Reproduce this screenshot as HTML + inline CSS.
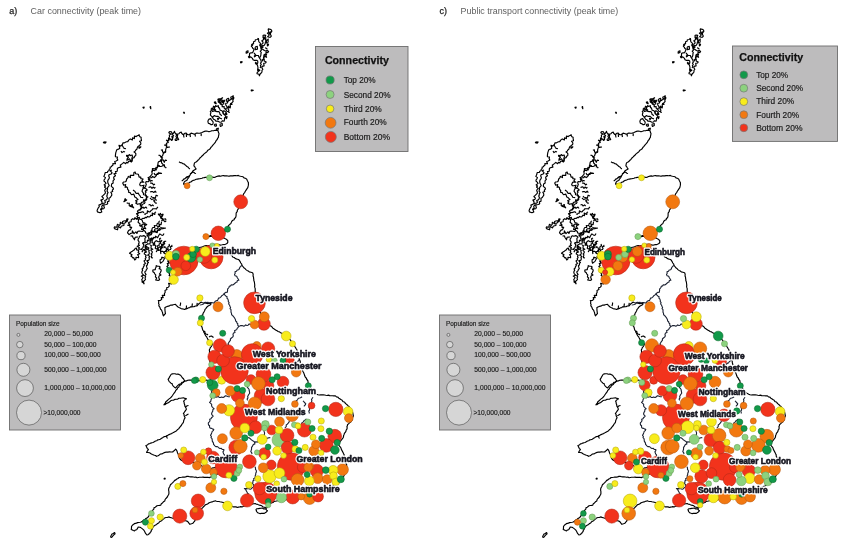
<!DOCTYPE html><html><head><meta charset="utf-8"><style>html,body{margin:0;padding:0;background:#fff;overflow:hidden}svg{display:block}</style></head><body>
<svg width="850" height="552" viewBox="0 0 850 552">
<rect width="850" height="552" fill="#fff"/>
<g font-family="Liberation Sans, Arial, sans-serif">
<text x="9.3" y="14.1" font-size="9" fill="#222" stroke="#222" stroke-width="0.25">a)</text>
<text x="30.6" y="14.1" font-size="9" fill="#5e5e5e" textLength="110.4" lengthAdjust="spacingAndGlyphs">Car connectivity (peak time)</text>
<text x="439.4" y="14.1" font-size="9" fill="#222" stroke="#222" stroke-width="0.25">c)</text>
<text x="460.6" y="14.1" font-size="9" fill="#5e5e5e" textLength="157.6" lengthAdjust="spacingAndGlyphs">Public transport connectivity (peak time)</text>
</g>
<defs><g id="geo" fill="none" stroke="#000" stroke-width="1.15" stroke-linejoin="round"><polyline points="169.5,131.5 171.4,131.7 172.6,134.2 173.5,133.2 174.5,131.3 175.0,132.9 176.0,133.9 177.5,134.2 179.0,133.7 179.8,132.7 181.2,132.0 181.8,133.5 183.0,134.5 184.1,134.1 184.9,133.2 186.0,133.0 186.9,134.0 187.9,134.7 189.1,134.6 190.1,134.1 191.1,133.1 192.5,133.5 193.8,134.1 194.9,134.1 195.9,133.4 197.0,133.0 198.5,133.3 199.9,133.2 200.9,132.9 202.0,132.5 203.0,132.0 204.5,131.4 206.1,131.0 207.6,131.3 209.0,131.8 210.5,131.3 211.9,130.7 213.5,130.8 215.0,130.3 216.1,130.5 217.2,130.3 218.0,130.7 218.3,132.1 219.0,133.5 218.8,134.8 218.5,136.1 218.4,137.3 217.6,138.3 217.2,139.5 216.3,140.4 215.7,141.5 215.1,142.7 214.2,143.7 213.3,144.6 212.5,145.6 211.7,146.6 210.8,147.5 210.2,148.7 209.1,149.5 207.9,150.2 207.1,151.3 206.2,152.3 205.3,152.9 204.4,153.6 203.6,154.4 202.9,155.3 202.0,156.0 201.2,156.9 200.2,157.7 199.5,158.7 198.7,159.7 197.8,160.3 197.0,161.3 196.1,162.0 194.9,162.5 194.3,163.5 194.1,164.7 193.9,165.8 194.8,166.8 195.4,168.1 196.1,168.9 194.8,169.7 193.5,170.5 192.6,171.3 192.2,172.4 191.3,173.2 190.4,174.2 189.9,175.4 189.2,176.5 188.8,177.5 188.1,178.4 187.4,179.2 186.8,180.5 185.4,181.0 184.3,181.9 183.8,182.9 183.5,184.1 184.9,184.0 186.2,183.6 187.5,183.4 188.8,183.1 189.7,182.2 191.1,181.9 192.0,181.0 193.0,180.4 194.1,180.2 195.1,179.8 196.2,179.3 197.3,179.1 198.5,178.9 199.7,178.8 200.9,178.5 202.0,178.2 203.0,177.7 204.2,177.6 205.3,177.4 206.4,177.4 207.5,177.3 208.6,177.1 209.9,177.2 211.3,177.3 212.7,177.1 214.0,177.5 215.4,177.1 216.6,176.5 218.0,176.1 219.3,175.9 220.7,176.2 222.0,175.7 223.4,175.5 224.5,175.9 225.6,175.8 226.8,175.8 227.9,176.0 229.0,176.3 230.2,175.9 231.5,175.8 232.8,175.9 234.0,175.6 235.4,175.5 236.8,175.7 238.3,175.4 239.4,176.0 240.6,176.3 241.8,176.5 243.1,176.8 244.0,177.9 245.3,178.3 246.6,178.9 247.2,180.3 247.8,181.5 248.4,182.6 248.4,183.7 248.4,184.9 248.2,185.9 247.8,187.6 246.9,188.9 246.1,190.1 245.3,191.3 244.7,192.6 243.7,193.6 243.3,194.8 243.0,196.0 242.7,197.6 241.9,199.0 241.7,200.1 241.2,201.2 241.0,202.4 240.4,203.5 240.3,204.7 239.7,205.7 238.9,206.7 238.5,207.8 238.3,209.0 237.4,210.2 237.2,211.7 236.2,212.9 236.1,214.1 236.1,215.3 235.9,216.6 235.5,217.7 234.4,218.4 234.2,219.7 232.9,220.3 231.8,221.2 231.3,222.4 230.8,223.6 229.8,224.3 228.9,225.2 228.2,226.2 227.4,227.1 226.5,228.0 225.6,228.8 224.7,230.6 223.5,231.1 222.6,231.9 221.6,232.7 220.4,233.1 219.2,233.1 218.2,233.6 217.0,233.8 215.8,234.2 214.4,234.2 213.2,234.5 212.1,235.3 210.7,235.6 209.4,236.0 208.0,236.7 209.2,236.7 210.5,236.5 211.8,236.5 213.0,236.9 214.3,237.0 215.5,237.0 216.7,236.6 217.9,236.8 219.3,237.0 220.7,237.2 221.9,237.8 223.6,237.8 224.9,238.6 226.4,239.3 227.7,240.5 227.8,242.3 226.9,243.6 225.5,244.3 224.4,244.6 223.2,244.5 222.1,245.0 221.0,245.1 219.5,244.9 218.0,244.3 216.7,244.4 215.3,244.2 214.0,244.3 212.7,244.9 211.3,244.8 210.0,245.2 208.8,245.5 207.6,245.8 206.2,245.5 205.0,245.8 203.7,246.2 202.5,246.8 201.2,247.1 199.9,247.3 199.1,248.1 198.0,248.4 197.1,249.3 196.4,249.9 195.2,250.7 194.1,252.0 195.4,251.2 196.8,251.3 198.0,250.4 199.2,250.1 200.5,250.4 201.8,250.3 203.0,249.7 204.3,249.9 205.6,249.4 207.1,249.3 208.3,250.1 209.7,249.9 211.0,250.3 212.3,251.1 213.7,251.1 215.0,251.3 216.3,251.4 217.5,251.6 218.7,252.0 220.0,251.8 221.2,252.4 222.4,252.2 223.6,252.8 224.8,252.9 226.0,252.7 227.4,252.9 228.7,253.3 230.2,253.4 230.6,254.5 231.6,255.3 232.3,256.1 233.0,257.3 234.2,257.5 235.1,258.3 236.2,258.9 237.3,259.2 238.5,259.5 239.3,260.2 240.1,261.6 240.8,263.0 241.7,264.1 242.0,265.3 242.9,266.5 243.8,267.7 245.0,268.5 245.9,269.6 247.0,270.4 248.3,271.0 249.3,271.9 250.9,272.2 252.6,272.7 253.0,273.7 253.2,274.9 253.0,276.0 253.5,277.1 253.6,278.3 253.8,279.4 253.8,280.6 254.3,281.7 254.5,282.8 254.6,284.0 254.8,285.1 254.6,286.3 254.8,287.4 255.2,288.6 255.2,289.8 255.2,291.0 255.3,292.3 255.3,293.7 255.7,295.0 255.9,296.2 255.9,297.5 256.1,298.7 256.0,300.0 256.6,301.3 256.9,302.6 256.9,304.0 257.5,305.3 257.5,306.7 258.0,308.0 258.3,309.1 259.2,309.9 259.5,311.0 259.8,312.1 260.7,312.9 260.8,314.1 261.7,314.9 261.9,316.1 262.5,317.2 263.3,318.1 264.3,318.9 265.2,319.8 265.8,321.0 266.5,322.2 267.6,322.9 268.1,324.2 269.4,324.6 270.0,325.8 271.3,326.2 272.1,327.1 272.9,328.2 273.9,328.8 274.9,329.6 276.0,330.2 277.1,330.8 278.1,331.5 279.5,331.9 280.6,332.7 281.9,333.2 282.9,334.1 284.0,334.8 285.1,335.3 286.2,335.9 286.9,337.1 288.0,337.7 289.0,338.6 290.0,339.6 290.8,340.6 291.7,341.6 292.4,342.7 293.1,343.7 293.7,344.6 294.5,345.5 294.8,346.6 295.5,347.5 296.0,348.5 296.7,349.4 297.1,350.5 297.7,351.4 298.1,352.8 298.3,354.1 298.3,355.5 298.9,356.8 299.2,358.1 299.3,359.4 299.9,360.5 300.3,361.6 300.3,362.8 300.7,363.9 300.9,365.0 301.4,366.2 301.5,367.3 301.8,368.5 302.4,369.6 302.6,370.8 303.1,371.8 303.7,372.8 304.1,373.9 304.5,375.0 304.8,376.1 305.4,377.3 306.4,378.2 306.8,379.5 307.8,380.5 308.0,381.6 308.1,382.8 308.2,383.9 308.9,384.9 308.9,386.1 309.6,387.3 310.6,388.2 311.2,389.4 311.9,390.7 312.9,391.2 313.7,392.1 314.5,392.9 315.5,393.6 316.7,394.2 318.0,394.8 319.3,395.0 320.7,394.9 322.0,394.8 323.3,394.9 324.6,395.0 325.8,395.3 327.1,395.5 328.4,395.1 329.7,395.6 331.0,395.7 332.4,395.7 333.9,395.9 335.4,395.9 336.5,396.9 337.9,397.1 338.8,398.2 339.8,398.8 340.8,399.5 341.9,400.0 342.5,401.0 343.3,401.7 344.5,402.0 345.1,403.0 346.0,403.9 347.0,404.7 347.9,405.6 349.0,406.5 349.8,407.8 350.7,408.8 351.6,409.8 351.8,411.0 352.5,412.0 352.9,413.3 353.1,414.6 353.4,415.9 352.6,417.4 352.3,418.9 351.9,420.5 351.0,421.7 349.8,422.6 348.7,423.7 347.5,424.6 347.4,425.7 346.9,426.8 347.2,427.9 346.9,429.1 346.1,430.3 345.8,431.6 344.4,433.3 344.1,434.4 343.6,435.4 343.5,436.7 343.1,437.8 342.3,438.7 341.7,439.7 340.9,440.6 340.0,441.7 338.9,442.5 337.9,443.6 338.6,444.7 339.3,445.9 340.2,446.9 341.0,448.0 341.3,449.3 341.9,450.4 342.5,451.5 343.1,452.6 343.6,453.8 344.2,454.9 344.2,456.2 344.9,457.3 344.9,458.5 345.3,459.7 345.4,460.9 345.8,462.0 345.9,463.2 346.6,464.4 346.6,465.6 346.8,466.8 347.1,468.0 346.6,469.2 346.3,470.5 345.9,471.7 345.8,473.2 344.9,474.0 344.3,475.0 343.8,476.1 343.2,477.0 342.4,477.9 341.7,478.8 341.1,479.8 340.3,480.6 339.8,481.6 339.1,482.7 338.2,483.4 337.1,483.9 336.0,484.3 334.9,484.8 333.9,485.3 333.0,486.0 331.9,486.2 331.0,487.0 329.9,487.3 328.8,488.1 327.5,488.4 326.3,488.7 325.2,489.6 324.1,490.2 322.8,490.4 321.6,491.0 320.4,491.6 319.3,492.3 318.0,492.6 316.8,493.0 315.5,493.6 314.2,493.8 313.0,494.5 311.8,494.7 310.5,494.9 309.4,495.3 308.2,495.7 307.0,495.9 305.8,496.1 304.6,496.3 303.4,496.5 302.2,496.9 301.0,496.9 299.8,497.1 298.6,497.1 297.4,497.4 296.2,497.6 295.0,497.8 293.8,498.0 292.6,498.3 291.4,498.7 290.2,498.9 289.0,498.9 287.7,499.0 286.5,499.5 285.3,500.0 284.0,499.8 282.8,500.1 281.5,500.3 280.3,500.6 279.0,500.5 277.7,500.6 276.5,501.0 275.3,501.3 274.0,501.4 273.2,502.4 272.0,502.7 270.9,503.1 269.9,503.9 269.3,504.9 268.4,505.6 267.7,506.5 267.1,507.5 266.1,508.4 265.2,507.4 263.9,507.2 262.7,506.7 261.8,505.8 260.6,505.4 259.5,505.1 258.4,504.7 257.3,504.2 256.1,504.1 255.1,503.5 253.8,503.7 252.5,503.9 251.3,504.4 250.0,504.4 248.8,505.0 247.6,505.2 246.5,505.8 245.2,505.8 244.0,506.1 242.9,506.6 241.8,506.9 240.7,506.6 239.6,507.0 238.5,507.1 237.2,507.5 236.0,506.8 234.8,506.9 233.5,506.9 232.4,506.5 231.4,506.0 230.3,505.6 229.1,505.6 228.1,504.8 226.8,504.5 225.8,503.5 224.5,503.2 223.5,502.6 222.3,502.3 221.1,502.0 220.0,501.8 218.8,501.5 217.6,501.5 216.4,501.3 215.3,500.8 214.2,501.3 213.1,501.4 212.1,501.9 210.6,502.2 209.1,502.8 208.3,503.5 207.3,504.1 206.2,504.5 205.2,504.9 204.5,505.9 203.5,506.8 202.7,507.7 201.0,509.0 200.4,509.9 200.2,511.1 199.8,512.1 198.9,512.9 198.4,513.9 197.8,514.9 197.5,516.0 197.2,517.2 196.3,518.0 196.0,519.2 195.0,520.0 194.6,521.3 193.7,522.2 193.0,523.2 191.5,523.8 189.9,524.3 188.9,523.2 188.1,521.9 186.9,521.1 185.6,520.7 184.2,520.6 182.9,520.0 181.7,520.0 180.6,519.6 179.5,519.3 178.2,519.0 176.7,519.4 175.5,518.6 174.1,518.2 172.7,518.2 171.3,517.8 170.0,517.4 168.6,516.9 167.3,517.5 165.9,517.5 164.5,518.0 163.7,519.0 162.5,519.4 161.8,520.6 160.7,521.3 159.5,521.8 158.7,522.9 157.6,523.5 156.6,524.4 155.5,525.1 154.3,525.7 153.3,526.6 152.7,527.7 152.2,529.1 151.3,530.3 151.1,531.5 150.3,532.3 149.7,533.4 148.8,534.0 147.9,534.7 146.9,535.0 145.6,533.4 145.0,532.2 144.4,531.0 143.6,529.9 142.1,528.6 141.1,527.9 140.1,527.2 138.2,527.0 137.5,528.4 136.7,529.7 135.4,530.0 134.5,530.9 133.4,530.5 132.3,529.9 131.2,529.5 131.5,528.1 131.5,526.5 132.5,525.1 133.5,524.5 134.4,523.6 136.4,523.1 137.6,522.6 138.8,522.5 140.0,522.3 141.2,522.0 142.1,521.4 143.0,520.8 143.8,520.0 145.0,519.6 145.7,518.5 146.9,518.1 147.9,517.3 148.8,516.2 149.3,514.8 150.3,513.6 151.7,512.6 152.2,511.3 152.8,510.1 153.8,509.1 154.1,507.6 155.2,507.2 156.1,506.5 157.0,505.7 158.2,505.5 159.5,505.4 160.8,505.1 161.3,503.7 162.5,503.0 163.4,501.8 164.8,501.0 165.0,499.8 165.6,498.8 166.4,498.0 167.3,497.0 167.9,495.8 168.5,494.8 168.9,493.7 168.9,492.6 168.9,491.5 168.6,490.1 168.7,488.7 169.1,487.6 169.7,486.7 170.1,485.6 170.6,484.5 171.7,483.7 172.7,482.7 173.7,481.6 174.7,480.4 175.9,479.9 176.8,479.0 178.0,478.5 178.8,477.6 180.2,477.5 181.6,477.3 183.0,477.0 184.3,477.1 185.6,476.9 186.9,476.4 188.2,476.4 189.5,476.7 190.7,476.9 192.0,476.8 193.3,477.0 194.5,477.3 195.9,477.1 197.1,477.7 198.3,477.5 199.5,477.3 200.6,477.2 201.8,477.2 203.0,477.1 204.2,477.4 205.5,477.3 206.7,477.4 208.0,477.2 209.3,477.7 210.3,477.1 211.3,476.9 212.4,476.5 213.7,476.7 214.7,475.7 216.0,475.0 217.2,474.2 218.1,473.3 218.9,472.4 219.8,471.6 220.7,470.7 221.5,469.6 222.1,468.4 223.1,467.5 224.0,466.5 225.1,465.7 225.8,464.6 226.5,463.4 225.1,463.7 223.9,464.2 222.4,464.3 221.3,464.9 220.3,465.6 219.1,466.0 217.9,466.2 216.7,466.9 215.6,467.4 214.3,467.8 213.0,467.9 211.7,468.3 210.4,468.5 209.3,469.3 208.0,469.5 207.1,468.8 205.9,468.5 204.9,467.8 204.0,467.0 202.9,466.5 201.9,466.0 200.9,465.3 200.0,464.5 199.0,464.0 197.7,463.9 196.4,463.5 195.3,462.7 194.0,462.4 192.7,462.6 191.5,462.0 190.2,462.4 189.0,462.1 187.7,461.6 186.3,461.4 184.9,461.4 183.6,460.7 182.2,460.6 181.1,460.2 180.4,459.3 179.5,458.5 179.3,457.3 178.8,456.2 178.6,455.0 178.1,454.0 177.6,453.0 177.0,451.1 176.4,449.9 175.6,449.1 174.4,450.6 173.4,451.2 172.7,452.0 171.1,452.0 169.5,451.8 168.1,452.1 166.6,452.0 165.1,452.4 163.5,453.0 162.2,453.9 160.5,454.0 159.3,454.9 158.1,455.7 156.4,456.3 155.6,455.5 154.4,455.3 152.4,454.4 151.0,453.7 149.6,452.8 148.0,452.5 146.6,452.4 147.1,451.3 147.8,450.4 148.4,449.5 147.2,448.3 146.5,446.8 145.9,445.6 147.4,444.9 148.7,443.8 149.8,443.6 150.8,443.1 151.9,442.7 153.0,442.5 154.3,441.8 155.5,441.0 156.7,440.8 157.6,439.9 158.8,439.7 160.3,439.2 161.6,438.3 162.6,437.7 163.5,437.1 164.6,436.6 166.2,436.2 167.6,435.4 169.0,434.6 170.5,434.0 171.5,433.6 172.5,433.1 173.5,432.4 174.8,431.7 176.3,431.0 177.3,429.8 178.6,428.9 179.5,427.6 180.5,426.4 181.3,425.5 181.8,424.4 182.7,423.3 183.5,422.2 183.6,421.0 184.0,419.9 184.4,418.9 185.1,417.7 184.6,416.7 184.1,415.7 184.1,414.5 183.4,413.4 184.3,412.3 185.1,411.1 185.8,410.1 186.4,409.1 185.7,407.4 184.9,406.2 184.7,404.8 184.2,403.5 184.1,402.3 183.6,401.3 184.3,400.3 185.3,399.6 186.5,398.8 184.9,398.4 183.6,397.8 182.0,398.0 180.5,398.2 179.0,398.3 177.7,399.1 176.2,399.2 174.7,399.4 173.4,400.2 171.9,400.3 170.8,400.7 170.0,401.6 169.0,402.2 168.1,402.9 166.9,403.2 166.0,403.8 165.1,404.7 163.9,404.8 164.6,403.8 165.4,403.0 165.8,401.8 167.1,400.8 168.2,399.6 169.1,398.9 170.1,398.2 171.0,397.3 171.8,396.5 172.5,395.5 173.1,394.5 174.1,393.2 175.1,391.9 175.6,390.7 176.3,389.8 177.2,389.0 177.7,387.7 178.8,387.1 179.3,385.8 180.3,385.1 181.3,384.5 181.9,383.4 183.0,382.6 183.9,381.7 184.9,381.1 186.4,380.9 187.8,380.3 189.2,380.1 190.6,380.1 191.8,380.2 192.9,380.2 194.0,380.8 195.1,380.8 196.5,380.7 198.0,380.3 199.5,380.8 200.9,380.5 202.1,380.6 203.2,380.6 204.4,380.1 205.5,380.2 206.7,380.1 208.1,380.7 209.7,381.1 210.1,379.9 210.9,379.0 210.7,377.7 210.2,376.5 210.6,374.9 211.3,373.5 211.7,372.3 211.9,371.2 212.3,369.9 211.7,368.7 211.4,367.3 210.8,366.1 210.6,364.7 210.2,363.4 210.1,362.0 209.7,360.7 209.5,359.4 209.4,358.0 209.6,356.7 209.6,355.3 209.9,354.0 209.4,352.7 209.6,351.3 209.3,350.1 209.8,349.0 210.2,347.9 210.9,347.0 211.6,346.1 212.1,345.0 212.5,343.8 210.7,343.4 209.7,342.6 209.1,341.5 208.5,340.3 207.8,339.1 207.2,338.0 206.7,336.9 205.7,335.8 205.0,334.5 204.5,333.2 203.8,332.1 203.5,331.0 202.8,330.1 202.4,328.8 202.1,327.4 201.5,326.1 200.5,325.0 199.8,323.9 199.4,322.6 199.9,321.1 200.4,319.5 200.7,318.0 201.3,316.7 202.1,315.7 202.8,314.6 203.1,313.3 203.9,312.1 204.6,310.8 205.1,309.3 206.0,308.4 206.7,307.2 207.8,306.3 209.1,305.6 210.0,305.1 210.7,304.5 211.0,303.5 209.5,303.2 208.0,303.6 205.9,303.3 204.4,303.0 202.9,302.8 201.8,302.5 201.0,302.1 199.9,303.0 198.8,303.8 197.9,304.8 197.0,306.0 195.5,306.0 194.0,306.6 192.9,306.7 191.8,306.9 190.6,306.8 189.7,307.6 188.5,307.8 187.5,308.4 185.9,308.9 184.4,309.5 183.3,309.0 182.1,308.9 181.0,308.4 180.0,307.9 179.0,307.5 178.0,307.0 177.2,306.2 176.3,305.4 175.5,304.3 174.4,304.5 173.2,304.7 172.2,305.1 171.0,305.0 169.8,305.6 168.5,306.1 167.2,306.4 165.9,307.0 164.8,307.7 165.0,308.8 164.9,310.0 165.1,311.1 165.2,312.3 165.5,313.5 164.4,314.7 163.5,315.9 163.0,314.8 162.7,313.6 162.5,312.4 162.0,311.3 161.6,310.1 160.6,309.2 160.1,308.1 159.7,306.8 158.8,305.8 159.1,304.5 158.5,303.3 158.8,301.9 158.3,300.6 160.2,300.5 161.7,299.4 161.2,297.6 163.2,297.6 162.2,295.4 164.6,295.4 164.4,293.6 165.2,292.3 165.0,290.6 166.9,289.6 166.6,287.7 168.2,287.2 169.1,286.4 169.2,285.2 168.6,283.3 171.4,284.0 172.2,282.1 171.1,280.8 170.2,279.6 170.2,277.9 170.5,276.3 169.1,275.4 169.8,274.1 169.0,273.1 168.3,272.0 169.5,270.5 167.9,269.4 168.3,268.0 166.9,266.5 168.3,265.3 167.3,263.6 169.4,263.0 167.8,261.3 168.5,261.3 167.9,260.2 168.0,259.5 166.6,258.5 165.7,257.7 165.0,256.8 166.3,254.9 165.6,254.0 164.4,253.2 163.6,252.1 162.6,251.3 160.6,251.8 160.4,249.8 158.5,250.5 157.9,249.1 156.4,248.9 155.2,248.3 155.7,246.3 155.2,245.1 153.0,245.2 153.9,243.3 152.0,242.6 152.2,240.9 152.2,239.4 151.0,238.9 148.7,239.2 148.8,237.6 148.0,236.4 147.0,235.3 147.4,233.2 145.7,233.0 145.3,231.5 144.3,230.8 143.3,229.8 141.5,229.4 142.3,227.3 142.1,225.9 139.7,225.8 140.1,223.9 139.0,223.0 138.1,222.2 138.5,220.7 138.6,219.3 135.6,218.7 138.2,217.8 136.9,216.4 138.3,215.3 136.6,213.7 138.5,213.0 137.4,211.1 138.5,210.1 140.5,209.8 140.5,208.3 141.5,207.5 141.5,205.9 142.2,205.0 143.0,204.0 144.4,203.5 145.0,202.5 144.6,200.6 145.9,200.1 146.9,199.1 146.4,197.9 146.7,196.2 145.8,195.1 143.5,194.7 143.4,193.2 142.1,191.4 142.3,190.1 142.9,188.9 143.6,187.7 145.6,187.0 145.7,185.7 146.3,184.7 145.7,182.9 146.0,181.6 148.6,181.7 148.9,180.6 149.8,179.8 148.0,177.7 149.4,177.0 150.5,176.2 151.1,175.3 152.2,174.0 151.9,172.1 152.4,170.6 152.4,168.6 155.2,168.8 156.6,167.9 157.4,166.5 157.9,164.8 158.0,163.0 158.5,161.8 160.5,161.1 161.6,160.0 162.2,158.9 160.8,156.8 162.5,156.0 163.0,154.5 163.4,153.3 164.9,152.5 165.7,151.4 165.6,150.0 166.0,148.7 166.4,147.4 166.6,146.2 166.7,144.8 166.4,143.3 168.3,142.5 167.0,140.7 168.7,139.9 168.4,138.5 169.2,137.4 169.6,136.3 169.3,135.1 170.8,134.0 168.8,132.8 169.5,131.5 169.5,131.5"/>
<polyline points="268.5,28.6 269.4,29.2 270.6,29.4 271.4,30.0 271.9,31.3 270.6,32.3 270.4,33.5 270.6,34.8 271.3,36.1 270.5,37.2 269.2,37.3 267.6,36.7 268.9,35.6 269.0,34.4 267.4,33.2 268.9,32.1 268.5,30.9 268.2,29.7 268.5,28.6"/>
<polyline points="262.9,35.2 264.4,35.1 265.8,35.2 265.1,36.3 265.8,37.5 265.7,38.6 265.5,39.7 266.2,40.9 265.5,42.0 265.2,43.1 265.2,43.8 264.1,45.5 262.0,45.3 261.7,44.1 263.1,43.1 262.9,42.0 261.8,40.8 263.5,39.7 263.6,38.6 263.1,37.5 263.1,36.3 262.9,35.2"/>
<polyline points="258.3,38.2 258.6,39.4 258.6,40.7 258.9,41.9 260.1,42.9 260.6,43.9 260.5,45.2 261.2,46.2 260.9,47.6 261.7,48.7 263.0,49.5 264.4,50.5 265.7,51.0 267.3,50.4 268.6,51.5 267.8,52.6 266.0,52.1 266.1,53.7 264.4,54.5 265.1,56.2 263.6,57.1 263.6,58.3 264.2,59.4 264.2,60.9 266.2,62.0 265.6,63.0 263.7,63.3 263.9,64.6 264.1,65.9 262.1,66.4 261.8,67.6 262.8,69.3 261.9,70.5 262.0,72.0 261.2,73.0 260.1,74.0 259.4,75.8 259.0,74.2 257.0,73.7 257.2,72.5 258.4,71.3 257.6,70.2 257.7,69.0 258.0,67.8 257.8,66.6 257.5,65.4 256.7,64.2 257.8,62.8 257.7,60.9 256.7,60.3 255.4,60.3 254.1,60.3 253.0,59.7 252.4,58.3 251.4,57.3 249.5,56.6 249.5,55.0 249.6,53.2 251.0,52.9 252.6,52.8 253.2,51.4 253.5,50.8 254.1,49.1 252.8,48.4 252.4,47.3 251.3,46.1 252.1,45.2 252.5,44.2 253.6,43.6 253.5,41.8 255.0,41.3 255.4,39.7 257.3,39.5 258.3,38.2"/>
<polyline points="240.5,61.5 242.2,61.9 241.6,62.7 240.6,62.8 240.5,61.5"/>
<polyline points="251.2,89.8 253.3,90.2 252.4,90.8 251.3,91.0 251.2,89.8"/>
<polyline points="211.2,108.4 212.9,108.4 213.5,106.2 215.0,107.0 215.7,105.6 216.5,106.4 218.4,105.7 218.4,107.6 219.4,107.9 219.8,109.1 220.2,110.3 222.0,110.7 222.8,112.1 223.3,113.8 224.6,114.5 225.2,115.5 226.0,116.9 224.7,117.8 224.4,118.9 224.6,119.6 224.0,121.2 222.3,120.7 221.6,122.0 219.9,122.2 218.4,121.5 217.2,121.1 215.9,121.2 215.2,120.0 213.8,119.4 213.0,118.3 212.5,117.2 211.4,116.1 210.4,115.0 210.5,113.7 211.0,112.7 210.3,111.4 211.3,110.6 211.2,108.4"/>
<polyline points="208.6,119.4 210.7,118.6 211.4,119.8 212.3,120.8 213.2,122.0 213.0,123.4 212.6,124.4 211.1,124.8 210.1,123.9 208.3,123.2 207.9,121.3 208.6,119.4"/>
<polyline points="217.7,99.2 218.9,98.8 220.2,98.9 221.4,98.8 222.6,97.8 221.2,98.6 220.7,100.2 221.4,101.1 222.9,101.5 223.7,102.4 223.7,104.0 222.3,104.2 220.9,103.9 220.6,102.7 219.6,102.1 219.6,100.6 219.0,99.6 217.7,99.2"/>
<polyline points="225.5,104.4 225.9,103.2 227.4,103.0 227.8,101.8 228.4,100.8 229.7,100.4 230.6,99.6 231.5,98.8 232.4,98.0 233.8,97.4 233.7,98.7 232.7,99.9 233.2,101.2 232.4,102.3 231.6,103.1 230.8,104.0 230.1,104.8 230.5,106.5 229.8,107.4 228.4,107.8 228.0,109.0 228.9,110.2 228.3,111.7 229.3,112.5 228.5,111.6 226.9,111.3 226.1,110.0 225.8,108.6 227.7,107.4 226.6,106.3 225.5,104.4"/>
<polyline points="139.1,134.5 139.4,135.7 139.9,136.8 141.1,137.3 141.2,138.9 141.5,140.7 139.5,141.2 140.9,143.0 140.6,144.6 139.6,145.2 138.8,146.0 137.9,146.6 137.2,147.9 136.9,149.2 135.8,150.0 135.2,151.1 134.0,152.0 135.3,152.9 135.9,153.9 135.7,155.7 134.4,156.3 134.2,157.6 132.9,158.0 132.0,158.7 132.0,160.3 131.5,162.0 129.6,161.0 128.5,161.4 127.8,162.9 126.5,162.4 125.6,163.7 123.8,162.4 122.7,163.4 121.4,164.4 120.3,165.0 120.9,167.2 119.5,167.4 118.3,167.8 117.4,168.5 117.3,170.1 117.2,171.2 115.4,171.6 116.1,173.4 113.9,173.9 115.5,175.7 114.0,176.7 113.6,178.0 114.4,179.4 113.2,180.5 113.0,181.7 113.2,183.0 111.6,184.0 111.5,185.2 111.3,186.4 113.0,187.7 113.5,189.0 112.3,190.1 112.7,191.5 110.8,192.3 111.7,193.8 111.8,195.1 111.1,196.2 110.3,197.4 108.9,198.3 109.1,199.8 108.9,201.4 107.3,201.7 107.7,203.8 106.5,204.5 104.6,204.7 103.7,205.6 104.4,207.7 103.7,208.7 102.0,209.0 101.0,209.9 101.8,212.0 100.0,212.7 97.4,211.9 97.1,210.4 97.6,209.2 98.3,207.8 99.3,206.7 98.9,205.1 100.8,204.4 102.0,203.4 102.0,201.9 100.9,200.1 102.9,199.4 103.4,198.1 101.9,196.5 103.2,195.4 104.2,194.3 105.2,193.3 105.4,192.1 104.7,190.7 105.0,189.6 106.3,188.6 104.5,187.0 105.5,186.0 104.1,184.9 106.0,183.5 105.5,182.4 104.1,181.3 104.0,180.0 104.9,178.8 105.5,177.6 103.8,176.4 104.4,175.2 104.9,174.0 105.2,172.5 107.4,172.4 107.7,171.2 109.0,170.8 109.2,169.4 110.1,168.7 110.2,167.1 111.4,166.7 112.1,165.7 113.0,165.0 112.9,163.5 115.5,163.7 114.7,161.5 116.2,161.0 117.8,160.1 117.1,158.5 117.5,157.0 115.4,156.7 115.4,155.3 115.6,153.9 115.8,152.7 116.3,151.1 117.0,149.5 118.7,149.1 119.8,148.2 119.0,145.3 120.8,146.1 121.6,145.2 122.5,144.3 122.9,142.8 124.4,142.9 125.4,142.2 126.5,141.7 127.8,141.6 128.5,140.4 129.3,139.6 130.3,138.9 132.4,139.9 132.5,137.8 134.4,138.6 134.4,136.0 136.2,136.6 137.2,135.7 138.6,135.4 139.1,134.5"/>
<polyline points="126.5,155.0 128.0,155.8 129.0,154.8 129.5,154.6 130.1,155.6 132.2,155.0 132.4,156.5 132.5,156.6 132.0,157.8 132.3,159.3 131.9,161.4 130.6,160.6 129.5,158.8 126.9,160.3 127.1,158.9 128.5,157.1 126.7,156.3 126.5,155.0"/>
<polyline points="138.6,147.0 140.9,146.8 140.0,147.8 139.1,148.3 138.6,147.0"/>
<polyline points="131.8,175.4 133.7,175.4 133.9,172.5 135.2,172.0 135.5,173.7 138.3,174.2 138.6,175.1 139.1,177.1 140.8,177.0 140.8,178.6 143.1,179.0 141.8,181.1 143.9,182.2 142.3,182.3 140.6,182.2 139.7,184.4 140.3,185.7 141.7,185.8 144.0,185.2 143.0,187.7 144.5,188.2 145.9,188.7 147.2,190.0 145.3,191.1 146.1,192.2 145.1,193.4 145.7,194.9 146.1,196.5 147.9,196.9 146.7,197.6 146.0,198.7 145.9,200.3 143.5,199.9 144.0,202.0 142.3,202.1 141.2,202.7 141.2,204.1 140.4,206.2 140.4,203.9 139.2,203.7 137.5,204.3 135.7,203.1 137.0,201.8 135.6,200.8 138.0,199.5 136.8,198.4 135.9,197.5 134.7,196.9 134.3,195.5 133.7,194.1 131.7,194.7 130.8,193.8 130.1,192.6 128.5,192.2 128.8,190.9 128.2,189.9 127.5,189.1 127.6,187.8 126.7,186.9 125.1,187.3 125.7,184.5 123.7,185.2 122.7,183.1 123.5,182.0 125.5,181.8 126.2,181.0 126.7,179.0 127.8,177.8 128.3,176.4 130.5,177.6 130.3,175.3 131.8,175.4"/>
<polyline points="124.5,199.0 125.3,198.7 125.5,200.0 126.7,199.9 123.9,201.7 125.0,200.2 124.5,199.0"/>
<polyline points="131.0,205.0 132.4,204.6 132.3,205.9 133.7,207.9 132.9,207.2 130.4,206.4 131.0,205.0"/>
<polyline points="114.0,228.0 114.6,226.9 116.5,227.2 116.9,226.4 117.4,224.3 119.2,225.5 120.2,224.3 120.3,222.3 122.7,223.8 122.6,221.5 123.8,221.0 125.1,220.7 126.4,220.6 127.0,218.8 128.1,219.0 127.4,220.3 127.1,221.7 125.7,221.9 125.1,223.0 124.0,223.2 123.9,225.5 122.5,225.8 121.2,226.3 120.6,227.9 118.3,226.5 117.8,227.9 117.6,229.8 116.1,229.3 114.9,228.9 114.0,228.0"/>
<polyline points="129.5,222.0 131.1,221.7 131.3,219.7 132.7,218.7 134.2,219.4 134.9,217.6 136.6,219.1 137.2,218.7 139.3,217.3 140.0,219.5 141.5,219.5 142.3,220.6 142.7,222.1 143.2,222.5 145.2,223.2 144.6,225.0 145.3,225.6 144.2,226.3 145.8,228.7 143.2,228.1 143.5,230.4 142.7,231.5 140.9,231.2 139.3,231.1 137.9,231.3 136.9,233.4 135.9,231.8 134.0,233.6 132.3,230.9 132.3,233.1 130.9,233.2 129.1,234.6 128.3,233.7 127.5,232.8 128.2,231.2 129.1,230.1 130.6,229.6 131.7,227.3 130.0,227.3 130.0,225.6 127.7,225.3 129.9,224.6 128.5,223.0 129.5,222.0"/>
<polyline points="131.0,252.0 132.3,251.3 133.4,250.4 133.8,250.3 135.3,248.3 136.5,248.1 136.7,249.9 138.4,250.3 138.8,251.3 138.1,252.4 139.7,253.8 137.5,254.7 138.5,256.0 138.6,257.8 135.9,257.3 136.0,258.8 134.7,260.0 133.8,257.7 133.1,258.0 132.0,256.8 130.9,256.1 132.0,254.8 129.5,253.2 131.0,252.0"/>
<polyline points="139.0,238.0 139.4,236.4 140.4,235.8 141.9,236.3 143.8,235.6 146.0,237.1 144.9,238.3 144.9,239.7 145.2,241.3 144.3,242.4 142.6,243.1 144.0,245.1 143.2,246.5 143.0,247.7 141.9,248.4 141.6,249.6 141.1,249.2 138.6,249.1 139.4,247.7 137.1,246.3 139.4,245.4 138.4,244.1 139.0,243.1 139.1,241.8 138.1,240.4 138.1,239.2 139.0,238.0"/>
<polyline points="146.0,246.0 147.2,247.1 148.9,248.0 147.6,249.3 149.3,250.4 148.8,251.6 149.3,252.8 149.2,254.0 147.6,255.1 149.9,256.5 148.9,257.6 149.4,258.9 148.9,260.1 146.8,260.9 148.4,262.5 147.3,263.5 147.5,264.9 146.4,265.8 146.8,267.2 147.3,268.6 146.3,269.6 146.0,270.9 144.7,271.9 145.2,273.2 146.1,274.5 144.7,275.6 145.7,276.8 145.0,278.0 145.5,279.4 144.6,280.5 143.3,281.5 143.8,282.9 144.1,283.8 143.2,282.7 142.0,282.0 142.3,280.9 141.7,279.6 142.5,278.5 143.0,277.4 141.3,276.1 143.7,275.2 142.3,273.8 141.8,272.5 142.0,271.4 142.7,270.3 142.1,269.0 143.2,268.0 143.4,266.8 144.3,265.7 143.9,264.5 145.4,263.5 144.8,262.2 144.0,261.0 145.6,259.9 145.2,258.7 146.1,257.6 145.5,256.4 146.2,255.3 144.2,253.9 144.5,252.8 146.6,251.9 144.1,250.4 146.7,249.6 146.9,248.4 144.8,247.0 146.0,246.0"/>
<polyline points="156.0,265.5 157.2,266.1 159.0,266.2 160.2,266.9 159.1,268.7 160.7,269.1 161.2,270.4 160.9,271.6 160.3,272.8 159.4,274.0 161.0,275.0 159.1,275.9 158.7,277.2 159.6,279.7 158.2,280.4 155.7,280.0 156.7,277.9 155.4,277.0 155.7,275.9 155.7,274.8 154.7,273.8 154.3,272.7 152.9,271.7 152.8,270.0 155.3,269.6 155.4,268.2 156.2,267.0 156.0,265.5"/>
<polyline points="161.5,257.0 164.4,258.0 164.1,259.3 163.3,260.7 162.7,261.6 160.5,263.2 160.1,261.7 160.1,259.8 161.9,258.7 161.5,257.0"/>
<polyline points="171.2,374.3 172.4,373.9 173.7,373.8 175.0,373.7 176.3,374.2 177.7,374.1 179.0,374.4 180.5,375.2 181.5,376.5 182.3,377.7 183.5,378.7 184.0,379.9 184.8,380.7 184.0,381.5 183.1,382.2 181.9,382.4 181.2,383.4 180.2,384.1 179.0,384.4 177.9,385.4 176.9,386.4 175.7,387.9 174.4,387.2 173.3,386.1 172.5,385.0 172.1,383.6 170.9,383.2 170.2,382.4 169.2,381.6 168.7,380.6 168.1,379.3 168.8,378.4 169.3,377.4 170.3,375.7 171.2,374.3"/>
<polyline points="110.5,536.5 111.3,535.3 112.0,534.1 113.3,533.5 114.6,532.5 115.1,533.9 113.9,534.8 112.9,535.8 112.1,536.9 111.1,537.5 110.5,536.5"/>
<polyline points="164.2,478.0 165.2,478.2 165.0,479.1 164.2,479.0 164.2,478.0"/>
<polyline points="256.0,509.0 257.3,508.8 258.5,508.6 259.8,508.4 261.0,508.2 262.3,508.1 263.4,508.8 264.7,508.8 265.9,509.1 266.6,510.1 267.4,510.8 266.4,511.9 265.2,512.7 264.0,513.4 262.8,513.4 261.5,513.3 260.2,513.6 259.2,513.3 257.6,512.7 256.6,511.5 256.2,510.3 256.0,509.0"/>
<polyline points="142.6,107.2 144.2,107.3 143.8,107.0 143.8,108.2 142.6,107.2"/>
<polyline points="150.0,106.5 150.6,106.5 150.8,108.7 150.2,107.4 150.0,106.5"/>
<polyline points="183.4,112.1 184.3,112.2 184.4,113.3 183.7,113.0 183.4,112.1"/>
<polyline points="104.3,141.8 106.2,142.0 105.2,143.2 103.4,142.6 104.3,141.8"/>
<polyline points="219.0,100.5 220.2,99.9 220.9,99.8 222.8,100.4 222.6,102.4 220.9,101.7 220.3,102.9 218.9,102.0 219.0,100.5"/>
<polyline points="226.0,100.0 226.9,99.1 228.4,98.3 229.0,99.2 228.6,99.9 227.9,101.1 227.3,101.8 226.6,101.0 226.0,100.0"/>
<polyline points="230.5,97.0 231.6,96.7 233.3,95.8 233.1,97.2 233.1,99.0 231.4,98.9 230.5,97.0"/>
<polyline points="223.0,112.0 223.6,110.8 224.7,111.1 226.1,112.3 226.0,114.1 224.9,114.2 224.5,114.8 223.4,113.5 223.0,112.0"/>
<polyline points="214.0,124.5 216.2,124.0 216.5,125.9 215.1,126.3 214.0,124.5"/>
<polyline points="216.5,128.5 218.4,128.2 218.0,129.8 216.3,130.0 216.5,128.5"/>
<polyline points="266.0,40.0 267.3,40.1 268.2,39.0 268.1,40.5 268.2,41.4 267.7,42.9 266.5,43.0 266.4,41.5 266.0,40.0"/>
<polyline points="255.0,47.0 257.3,46.4 257.4,47.7 257.5,49.1 255.2,49.6 255.3,48.2 255.0,47.0"/>
<polyline points="263.5,55.0 264.8,54.8 266.6,54.4 265.9,55.8 266.6,57.3 265.1,56.5 263.5,57.6 264.2,56.2 263.5,55.0"/>
<polyline points="246.1,51.5 248.0,50.8 248.0,52.4 246.2,53.2 246.1,51.5"/>
<polyline points="248.2,56.5 249.3,56.2 250.0,57.6 249.0,57.7 248.2,56.5"/>
<polyline points="261.0,46.4 262.8,45.8 263.0,47.3 261.3,48.3 261.0,46.4"/>
<polyline points="265.3,47.6 265.5,47.6 267.1,48.9 266.3,48.5 265.3,47.6"/>
<polyline points="267.0,44.4 268.2,44.1 268.6,44.7 267.7,46.0 267.0,44.4"/>
<polyline points="255.1,62.5 255.7,62.4 257.2,63.9 255.9,63.9 255.1,62.5"/>
<polyline points="262.3,59.6 264.0,59.0 263.3,59.5 262.3,61.0 262.3,59.6"/>
<polyline points="258.0,69.4 258.6,69.4 259.9,70.2 258.8,71.0 258.0,69.4"/>
<polyline points="269.3,32.6 271.1,32.0 270.6,33.1 269.1,34.1 269.3,32.6"/>
<polyline points="263.1,37.4 264.3,37.2 265.2,38.8 264.0,38.8 263.1,37.4"/>
<polyline points="251.3,44.6 252.8,44.1 252.3,44.5 252.6,45.3 251.3,44.6"/>
<polyline points="254.3,55.6 255.6,55.2 255.6,56.1 254.5,56.9 254.3,55.6"/>
<polyline points="225.1,113.5 226.4,113.1 226.9,114.2 226.3,114.7 225.1,113.5"/>
<polyline points="227.9,106.3 228.7,106.2 230.4,107.8 229.6,107.7 227.9,106.3"/>
<polyline points="230.2,103.5 231.4,103.2 232.0,104.5 231.5,104.5 230.2,103.5"/>
<polyline points="223.2,100.5 224.3,100.2 224.7,101.0 223.6,101.9 223.2,100.5"/>
<polyline points="214.0,102.4 215.5,101.9 216.2,103.6 215.4,103.7 214.0,102.4"/>
<polyline points="219.8,124.3 222.2,123.5 222.3,125.5 220.4,126.4 219.8,124.3"/>
<polyline points="225.0,117.4 227.1,116.7 226.8,117.9 226.6,118.6 225.0,117.4"/>
<polyline points="217.1,118.5 218.0,118.3 218.5,118.6 218.2,119.7 217.1,118.5"/>
<polyline points="211.8,109.3 213.2,108.9 214.6,111.0 212.3,111.5 211.8,109.3"/>
<polyline points="159.9,160.0 161.4,160.2 161.5,161.7 161.7,163.1 162.5,163.8 163.1,164.8 164.5,165.3 164.3,166.8 165.6,167.3 166.3,168.2"/>
<polyline points="152.7,180.9 151.6,180.5 150.2,181.3 149.4,178.9 148.0,180.0"/>
<polyline points="155.4,187.2 154.3,188.2 153.1,187.0 152.0,188.3 150.8,186.8 149.6,187.1 148.5,187.5"/>
<polyline points="156.3,192.6 155.2,191.1 153.8,192.5 152.6,191.6 151.3,191.5 150.0,192.0"/>
<polyline points="156.3,200.8 155.8,199.2 154.6,198.9 153.4,198.8 151.8,199.6 150.9,198.9 150.0,198.0"/>
<polyline points="153.6,206.2 152.6,204.9 151.0,206.0 150.0,204.5 148.5,205.0"/>
<polyline points="166.0,140.1 167.3,140.5 168.6,140.9 169.6,138.3 171.8,140.5 172.6,139.4 172.2,136.9 174.0,137.0"/>
<polyline points="164.1,145.2 165.5,144.9 166.4,146.1 167.3,147.5 168.7,147.1 170.0,147.0"/>
<polyline points="160.9,150.3 162.3,149.8 162.6,152.0 163.5,152.6 165.1,151.8 166.0,152.5"/>
<polyline points="158.4,155.3 159.9,155.4 160.8,156.6 161.8,157.4 163.0,158.0"/>
<polyline points="179.0,161.8 180.1,162.6 181.5,162.8 182.7,163.6 184.1,163.9 185.0,164.8 186.0,165.6 186.9,166.5 188.0,167.1 188.9,168.1 189.8,169.0"/>
<polyline points="181.7,180.9 182.9,180.2 183.7,179.1 185.1,178.6 186.0,177.5 187.2,176.7 188.6,176.2 189.8,175.4"/>
<polyline points="158.4,214.1 159.3,214.8 159.9,215.9 160.9,216.5 161.6,217.4 162.3,218.7 163.5,219.2 165.6,218.8 166.0,220.4"/>
<polyline points="148.2,234.4 148.8,232.7 150.8,234.4 151.8,233.5 152.1,231.2 153.8,232.1 154.6,230.8 156.3,232.0 157.4,231.6 158.1,229.8 159.4,230.3 160.4,229.7 161.4,228.7 162.6,228.8 163.7,228.4 164.9,228.2 166.0,228.0"/>
<polyline points="150.0,240.0 150.7,238.9 151.5,238.0 153.2,238.9 153.7,237.4 155.2,237.8 155.6,236.1 157.6,237.7 158.2,236.5 159.0,235.0 159.9,233.9 162.0,235.4 163.2,235.0 164.0,233.5"/>
<polyline points="153.0,244.0 154.6,244.4 154.6,242.1 155.4,241.3 156.4,240.7 158.2,241.7 159.6,241.6 161.0,241.7 162.0,240.0"/>
<polyline points="144.0,214.0 145.4,214.3 146.1,213.2 147.3,213.1 147.4,210.8 149.2,211.9 150.3,211.6 151.0,210.5 152.0,210.0 152.7,208.9 153.9,208.8 155.1,208.7 156.5,208.9 157.1,207.7 158.0,207.0"/>
<polyline points="141.0,220.0 141.9,218.9 143.0,218.3 144.3,218.5 145.2,217.4 146.6,217.6 147.5,216.4 149.0,217.1 150.1,216.4 150.8,215.2 152.5,215.6 152.2,213.1 154.8,214.5 154.9,212.6 156.0,212.0"/>
<polyline points="140.0,226.0 141.3,226.2 142.1,224.5 143.2,223.9 144.6,224.3 146.0,225.1 147.0,224.0"/>
<polyline points="156.7,248.6 158.3,248.0 157.0,245.9 159.1,245.5 159.1,244.0 160.7,243.2 159.9,241.6 160.0,240.3 159.5,238.8 161.0,238.0"/>
<polyline points="160.0,250.5 160.7,249.4 160.5,247.8 163.0,247.7 162.9,246.1 163.2,244.8 164.7,243.8 164.0,242.0"/>
<polyline points="164.1,253.5 163.9,251.7 165.7,251.4 166.0,250.0 168.1,249.4 167.8,247.9 168.1,246.5 169.6,245.7 169.0,244.0"/>
<polyline points="149.3,178.2 150.5,177.8 151.7,177.6 152.5,176.4 154.3,177.6 155.5,176.5 156.3,175.7 156.5,174.3 158.1,174.3 158.7,173.3 159.0,172.0"/>
<polyline points="151.8,172.0 152.4,170.4 153.5,170.1 154.8,170.6 155.6,169.4 157.0,170.0"/>
<polyline points="155.5,167.1 156.9,168.1 157.8,166.7 158.7,165.4 160.0,166.0"/>
<polyline points="158.1,213.6 158.9,215.0 160.5,213.4 161.1,215.3 162.6,214.2 163.1,214.4 162.4,216.2 160.5,216.9 160.8,218.1 162.7,218.9 161.6,221.0 162.9,219.6 163.9,220.7 165.0,221.7 166.2,220.9"/>
<polyline points="147.2,235.8 148.2,235.0 149.0,234.0 149.5,232.8 150.7,232.2 151.1,230.9 151.9,229.9 152.1,228.5 152.8,227.5 154.7,227.5 154.3,225.6 156.4,225.8 156.9,224.7 157.3,223.4 158.9,223.2 158.9,221.6 159.9,220.9"/>
<polyline points="149.0,236.5 148.9,234.7 150.9,234.9 151.6,233.9 151.5,232.1 152.2,231.0 154.9,231.8 154.6,229.9 155.2,228.8 156.8,228.6 158.1,228.2 157.6,226.2 159.7,226.4 159.0,224.4 161.1,224.6 161.3,223.3 161.5,222.0"/>
<polyline points="155.4,232.2 157.2,232.6 157.3,230.2 158.9,230.2 159.6,228.6 160.6,227.8 161.8,227.7 163.5,228.4 164.4,227.6"/>
<polyline points="144.5,243.0 145.8,242.5 147.2,242.2 147.5,240.2 149.5,241.0 150.7,240.4 151.9,239.9 152.6,238.5 153.6,237.6"/>
<polyline points="141.8,252.1 142.6,251.1 142.9,249.7 144.7,249.4 145.7,248.5 146.1,247.2 145.4,245.2 146.7,244.6 147.7,243.7 149.9,244.0 150.2,242.4 150.8,241.2"/>
<polyline points="156.3,252.1 156.6,250.8 158.4,250.5 157.6,248.4 158.8,247.7 159.8,246.8 161.8,246.8 161.7,244.7 163.2,244.2 163.3,242.2 164.5,241.4 166.2,241.2"/>
<polyline points="168.0,252.1 168.3,251.0 168.8,249.9 170.5,249.5 171.0,248.5 170.1,246.7 172.0,246.4 171.7,244.9"/>
<polyline points="133.0,190.0 134.0,190.7 135.0,191.4 135.6,192.7 136.5,193.5 138.3,193.1 138.8,194.3 139.5,195.1 140.2,196.0 140.7,197.2 141.9,197.5 143.2,197.6"/>
<polyline points="126.7,202.7 127.8,203.3 129.3,203.2 129.2,205.6 130.4,206.1 131.6,206.4 133.0,206.5"/>
<polyline points="139.0,210.0 140.3,209.6 141.2,208.8 142.1,207.9 143.0,207.0 144.0,208.3 146.0,207.0 147.0,208.5"/>
<polyline points="136.0,214.0 137.1,213.7 138.0,213.1 138.9,212.3 139.8,212.7 141.4,212.1 142.9,211.7 144.0,213.0"/>
<polyline points="130.5,236.0 132.4,235.9 133.0,237.5 134.5,239.8 135.1,237.3 136.5,237.1 138.0,237.0"/>
<polyline points="150.0,245.0 151.3,245.6 151.1,246.9 151.0,248.2 152.8,249.2 150.8,250.1 152.2,251.6 152.2,252.9 151.1,253.9 151.9,254.8 151.5,256.3 151.4,257.6 153.0,258.0"/>
<polyline points="161.0,244.0 162.6,245.0 161.0,246.6 161.6,247.8 160.9,248.8 160.5,250.0 161.1,251.4 160.6,252.6 161.0,254.0"/>
<polyline points="165.0,246.0 164.6,247.5 166.8,248.2 166.8,249.6 166.4,251.0 167.6,252.4 165.6,253.4 167.5,254.9 166.0,256.0"/>
<polyline points="160.0,160.0 161.3,160.5 163.1,159.8 164.3,162.3 165.2,160.1 167.0,160.5"/>
<polyline points="157.0,165.0 158.3,165.7 159.5,166.5 161.0,166.5 162.3,166.0 163.5,165.1 165.0,165.0"/>
<polyline points="154.0,173.0 154.9,174.6 156.3,174.9 157.7,173.3 159.1,173.4 160.5,173.1 162.0,173.5"/>
<polyline points="150.0,183.0 151.3,183.1 152.5,183.4 153.5,185.0 155.0,184.0"/>
<polyline points="151.0,196.0 152.1,197.3 153.5,197.5 155.4,198.1 156.1,195.2 158.0,196.0"/>
<polyline points="153.0,201.0 154.5,200.6 154.8,202.3 155.7,203.2 157.0,203.0"/>
<polyline points="172.0,133.5 172.0,134.7 173.6,135.6 171.9,136.4 172.7,138.1 172.1,139.1 171.5,140.0"/>
<polyline points="177.0,134.0 177.6,135.3 177.3,136.8 177.7,137.9 178.7,139.6 176.6,139.8 176.5,141.0"/>
<polyline points="183.0,134.0 183.6,135.1 183.8,136.3 184.0,137.5"/>
<polyline points="190.0,134.0 190.1,135.5 190.5,137.0"/>
<polyline points="122.0,144.7 122.6,146.0 123.3,147.2 124.1,148.4 126.0,148.7"/>
<polyline points="121.0,151.0 122.0,152.6 123.7,151.4 125.0,152.0"/>
<polyline points="112.0,170.0 110.2,170.7 112.1,172.9 111.1,174.0 109.0,174.8 108.7,176.0 109.4,177.4 109.1,178.6 108.3,179.6 107.7,180.9 107.8,182.1 108.0,183.3 108.7,184.5 109.2,185.7 108.1,186.8 107.4,187.8 107.6,189.1 107.2,190.2 107.2,191.4 108.1,192.7 107.2,193.8 107.3,194.9 106.7,196.1 107.4,197.6 107.1,198.9 106.3,199.9 104.7,200.5 105.4,202.3 104.6,203.2 102.5,203.3 103.3,205.1 102.1,205.8 101.7,206.8 102.3,208.4 100.8,208.9 100.5,210.0"/>
<polyline points="213.8,107.0 214.8,107.7 214.2,109.4 215.6,109.9 215.7,111.5 217.3,111.6 218.9,111.5 219.8,113.0 219.9,114.3 221.1,114.9 221.6,116.0"/>
<polyline points="211.8,117.5 213.0,116.8 214.0,115.9 214.7,115.6 215.6,116.3 216.8,116.4 218.1,116.4 219.0,117.1 219.7,118.1 220.9,118.5 222.0,119.0"/>
<polyline points="217.7,99.2 218.3,100.4 218.2,101.9 219.8,102.6 220.2,103.8 221.2,104.4 222.2,105.0 222.2,106.8 224.2,106.6 224.1,108.1 225.1,108.9 225.5,110.0"/>
<polyline points="259.8,44.3 259.8,45.5 260.8,46.5 261.4,47.5 261.0,48.8 261.5,50.1 260.2,51.1 261.3,52.5 260.9,53.7 260.9,54.9 260.7,55.9 259.9,57.3 259.7,58.5 260.8,59.6 261.0,60.8 261.4,62.1 260.5,63.1 261.3,64.5 260.4,65.6 260.8,66.9 260.0,68.0"/>
<polyline points="254.0,53.0 254.8,53.9 255.5,55.1 256.4,55.5 258.4,55.5 258.8,56.9 259.5,58.0"/>
<polyline points="176.0,134.0 176.5,135.3 175.9,136.7 177.2,138.2 175.1,139.2 175.5,141.0"/>
<polyline points="186.0,133.5 186.4,134.6 186.4,135.8 186.5,137.0"/>
<polyline points="195.0,134.0 195.2,135.3 195.5,136.5"/>
<polyline points="201.0,133.5 201.3,134.8 201.0,136.0"/>
<polyline points="190.0,174.0 191.0,173.4 192.0,172.6 193.0,172.0 194.0,172.5 194.9,173.2 196.0,173.5"/>
<polyline points="186.0,178.0 186.9,177.3 187.9,176.9 189.0,176.5"/>
<polyline points="204.0,331.0 204.9,331.8 205.1,333.2 205.9,334.2 207.1,334.3 208.0,335.0"/>
<polyline points="209.0,337.0 210.2,336.3 211.5,336.0 212.5,336.7 213.5,337.5"/>
<polyline points="185.0,407.2 186.1,406.5 187.2,405.8 188.5,405.5"/>
<polyline points="185.3,415.6 186.4,415.2 187.4,414.5 188.5,414.0"/>
<polyline points="166.0,435.5 166.6,436.4 166.9,437.5 167.5,438.5"/>
<polyline points="180.0,306.0 180.3,304.9 180.6,303.7 180.5,302.5"/>
<polyline points="186.0,309.0 186.3,307.9 186.4,306.7 186.5,305.5"/>
<polyline points="192.0,307.0 192.1,305.8 192.2,304.6 192.5,303.5"/>
<polyline points="197.0,306.0 197.0,304.4 197.3,302.8"/></g>
<g id="bnd" fill="none" stroke="#1a2030" stroke-width="1.1" stroke-linejoin="round"><polyline points="241.9,265.4 240.8,266.3 239.8,267.3 239.4,268.6 238.7,269.8 237.2,270.0 236.5,271.2 235.0,271.8 235.2,273.2 234.5,274.5 235.1,275.7 236.7,276.2 237.2,277.5 238.0,278.8 238.9,280.3 237.3,280.5 237.0,282.1 235.7,282.6 234.7,283.5 233.8,284.3 232.8,285.0 231.3,284.7 230.6,285.9 229.3,286.2 229.0,287.5 228.2,288.4 227.6,289.0 227.6,290.4 227.4,292.2 225.7,292.4 224.6,293.3 223.6,294.1 222.8,295.1 221.7,295.8 220.9,296.8 220.0,297.7 218.6,298.1 218.1,299.2 217.6,300.4 216.3,300.8 215.2,301.3 214.4,302.3 213.8,303.3"/>
<polyline points="223.9,293.8 224.7,294.9 225.7,295.9 227.1,296.7 226.9,298.1 227.9,299.1 228.3,300.3 228.3,301.6 229.1,302.6 228.6,304.0 229.5,305.0 229.9,306.2 230.6,307.3 230.0,308.7 231.0,309.7 231.0,310.9 231.0,312.2 231.5,313.3 231.6,314.7 232.8,315.6 233.5,316.7 234.4,317.7 235.0,318.7 235.5,319.7 235.6,321.0 236.7,321.7 236.8,322.9 237.8,323.7 237.7,325.2 238.6,326.2"/>
<polyline points="238.6,326.2 239.8,326.1 240.9,325.5 242.1,325.6 243.4,326.1 244.6,325.9 245.6,324.9 247.0,325.5 248.1,325.2 249.2,323.9 250.3,324.6 251.5,324.2 252.6,323.7 253.7,323.9 254.9,324.3 255.8,323.5 257.1,323.4 258.5,323.4 259.5,322.5 261.0,322.9 262.0,322.1 263.1,322.6 264.6,322.2 265.8,322.7 266.8,323.7 268.0,324.0"/>
<polyline points="238.6,326.2 238.2,327.4 237.3,328.2 236.8,329.3 235.9,330.1 234.5,330.7 235.0,332.4 233.5,333.1 233.0,334.3 233.3,335.9 232.6,337.1 231.4,338.0 230.4,339.0 230.4,340.4 229.5,341.4 228.8,342.5 228.0,344.0 228.6,345.1 229.1,346.2 228.7,347.5 229.2,348.6"/>
<polyline points="211.0,380.0 211.4,381.2 211.7,382.4 211.8,383.7 212.3,384.9 213.4,386.1 213.3,387.3 212.3,388.3 212.2,389.6 212.0,390.8 211.4,392.0 211.9,393.1 212.2,394.2 212.1,395.4 212.5,396.5 211.4,397.5 211.5,398.8 210.9,399.9 210.9,401.2 209.5,402.4 210.7,403.4 211.7,404.3 211.6,406.0 212.4,407.3 214.1,408.7 212.8,409.6 212.8,411.1 212.2,412.0 211.6,413.5 211.8,414.7 213.2,416.1 212.4,417.0 211.5,417.7 211.0,418.8 209.7,419.3 210.0,420.7 209.4,421.8 208.4,422.7 208.3,423.9 208.6,425.0 209.6,425.8 209.5,427.2 210.4,428.3 211.7,428.4 212.7,429.1 213.8,429.3 213.3,430.6 212.2,431.4 211.8,432.7 211.4,433.9 210.5,435.3 211.4,436.3 211.0,437.7 212.0,438.6 212.2,439.8 212.3,441.1 212.9,442.1 213.5,443.1 213.5,444.3 214.1,444.9 214.9,445.8 215.8,446.6 217.0,446.6 218.0,447.0 218.9,448.0 220.0,448.5 221.3,448.4 222.2,449.4 223.9,449.5 223.8,450.6 222.9,451.8 223.3,452.9 223.6,453.9 224.5,454.8 224.3,456.3 225.3,457.0 226.0,458.0"/>
<polyline points="211.8,397.6 213.0,397.0 214.4,397.7 215.5,396.8 216.9,397.1 218.2,396.4 219.2,397.4 220.5,397.5 221.4,397.1 223.2,397.5 224.4,396.8 225.4,395.7 226.5,396.1 227.6,396.5 228.7,396.8 229.9,396.7"/>
<polyline points="247.1,385.9 247.4,387.3 248.3,388.3 249.1,389.5 249.2,390.7 249.5,391.9 249.7,393.2 248.9,394.3 248.2,395.4 247.6,396.7 248.0,397.9 247.1,399.1 247.6,400.4"/>
<polyline points="302.1,396.8 301.0,397.5 299.8,398.0 298.4,398.3 297.6,399.5 296.9,400.5 295.9,401.1 294.9,401.7"/>
<polyline points="303.0,400.8 303.9,401.7 304.6,402.8 305.7,403.5 305.5,404.7 304.6,405.5 303.9,406.3"/>
<polyline points="313.0,397.2 312.3,398.3 311.5,399.4 311.9,400.9 311.4,402.2 311.0,403.3 310.0,404.1 309.7,405.2 309.0,406.3 309.1,407.5 309.6,408.7 309.6,409.9 308.8,411.1 309.2,412.3 309.3,413.5"/>
<polyline points="306.6,419.0 305.5,419.6 304.8,420.4 303.7,421.0 303.1,422.1 301.8,422.9 301.6,424.5 300.3,425.3"/>
<polyline points="289.4,420.8 289.0,422.2 288.2,423.2 287.3,424.2 286.2,424.9 286.3,426.2 285.7,427.1 284.9,428.0"/>
<polyline points="299.0,359.5 298.7,360.8 297.6,361.3 296.9,362.3 296.1,363.1 294.8,363.4 294.5,364.7 293.9,365.7 293.0,366.4 292.0,367.0"/>
<polyline points="247.4,437.6 249.0,437.7 250.2,438.6 251.2,439.7 252.3,440.4 253.2,441.1 254.4,441.7 254.5,442.4 254.9,444.0 253.5,444.4 252.8,445.4 252.3,446.4 251.5,447.6 251.6,449.0 251.2,450.3 250.8,451.7 251.8,452.8 251.9,454.1"/>
<polyline points="255.0,466.8 255.5,468.0 255.5,469.4 256.3,470.5 256.4,471.9 255.8,473.1 255.7,474.5 255.2,475.7 255.2,477.1 254.7,478.1 253.6,478.8 254.1,480.3 252.8,481.0 253.0,481.9 252.5,483.5 253.5,484.6 253.9,486.0 253.1,487.1 252.0,487.9 251.1,488.9 250.2,489.2 249.0,488.7 247.8,488.7 246.5,488.5 244.4,488.6 245.8,489.5 246.2,490.8 247.0,492.0 247.6,493.4 249.0,494.0"/>
<polyline points="255.0,442.7 255.8,441.7 257.3,442.1 258.1,441.5 259.0,440.2 260.4,441.0 261.4,440.2 262.6,439.6 264.0,439.9 265.3,439.7 266.3,438.3 267.6,438.1 268.9,437.7 270.3,437.6"/>
<polyline points="264.0,430.0 264.1,431.6 264.6,432.9 264.4,434.5 264.0,436.0"/>
<polyline points="199.7,305.0 201.1,304.8 202.3,304.4 203.5,303.9 204.4,302.6 205.6,302.3 206.8,302.6 207.9,302.3 209.0,303.1 210.3,302.6 211.5,302.5 212.7,302.7 213.8,303.3"/></g></defs>
<use href="#geo" transform="translate(0,0)"/>
<use href="#bnd" transform="translate(0,0)"/>
<g stroke-width="0.55"><circle cx="236.7" cy="355.4" r="5.85" fill="#f27810" stroke="#b85a10"/>
<circle cx="221.7" cy="380.3" r="3.95" fill="#f8ec1c" stroke="#b8a810"/>
<circle cx="256.8" cy="345.9" r="4.35" fill="#f27810" stroke="#b85a10"/>
<circle cx="251.0" cy="379.5" r="4.85" fill="#f2331c" stroke="#b02a18"/>
<circle cx="268.5" cy="385.5" r="5.35" fill="#f2331c" stroke="#b02a18"/>
<circle cx="183.8" cy="260.5" r="14.35" fill="#f2331c" stroke="#b02a18"/>
<circle cx="234.5" cy="370.5" r="13.85" fill="#f2331c" stroke="#b02a18"/>
<circle cx="291.2" cy="466.5" r="13.85" fill="#f2331c" stroke="#b02a18"/>
<circle cx="243.9" cy="417.5" r="13.45" fill="#f2331c" stroke="#b02a18"/>
<circle cx="211.2" cy="257.0" r="11.85" fill="#f2331c" stroke="#b02a18"/>
<circle cx="265.9" cy="493.2" r="11.15" fill="#f2331c" stroke="#b02a18"/>
<circle cx="254.5" cy="302.8" r="10.85" fill="#f2331c" stroke="#b02a18"/>
<circle cx="252.2" cy="354.5" r="10.85" fill="#f2331c" stroke="#b02a18"/>
<circle cx="226.0" cy="467.0" r="10.85" fill="#f2331c" stroke="#b02a18"/>
<circle cx="204.0" cy="255.5" r="7.85" fill="#f2331c" stroke="#b02a18"/>
<circle cx="263.5" cy="374.4" r="7.35" fill="#f2331c" stroke="#b02a18"/>
<circle cx="261.6" cy="395.8" r="7.35" fill="#f2331c" stroke="#b02a18"/>
<circle cx="236.2" cy="447.5" r="7.35" fill="#f2331c" stroke="#b02a18"/>
<circle cx="218.3" cy="233.3" r="7.25" fill="#f2331c" stroke="#b02a18"/>
<circle cx="213.1" cy="372.6" r="7.15" fill="#f2331c" stroke="#b02a18"/>
<circle cx="335.8" cy="409.4" r="7.15" fill="#f2331c" stroke="#b02a18"/>
<circle cx="304.4" cy="430.0" r="7.05" fill="#f2331c" stroke="#b02a18"/>
<circle cx="179.8" cy="516.1" r="7.05" fill="#f2331c" stroke="#b02a18"/>
<circle cx="240.7" cy="201.8" r="6.95" fill="#f2331c" stroke="#b02a18"/>
<circle cx="279.0" cy="439.9" r="6.95" fill="#8cd27e" stroke="#6a9e5a"/>
<circle cx="258.4" cy="383.5" r="6.85" fill="#f27810" stroke="#b85a10"/>
<circle cx="238.0" cy="395.4" r="6.85" fill="#f2331c" stroke="#b02a18"/>
<circle cx="268.0" cy="399.0" r="6.85" fill="#f2331c" stroke="#b02a18"/>
<circle cx="334.8" cy="436.2" r="6.85" fill="#f2331c" stroke="#b02a18"/>
<circle cx="326.3" cy="445.4" r="6.85" fill="#f2331c" stroke="#b02a18"/>
<circle cx="240.3" cy="446.3" r="6.85" fill="#f27810" stroke="#b85a10"/>
<circle cx="287.1" cy="435.4" r="6.85" fill="#f2331c" stroke="#b02a18"/>
<circle cx="249.4" cy="461.7" r="6.85" fill="#f2331c" stroke="#b02a18"/>
<circle cx="188.1" cy="457.8" r="6.85" fill="#f2331c" stroke="#b02a18"/>
<circle cx="292.7" cy="497.1" r="6.85" fill="#f2331c" stroke="#b02a18"/>
<circle cx="198.1" cy="500.9" r="6.85" fill="#f2331c" stroke="#b02a18"/>
<circle cx="196.7" cy="513.4" r="6.85" fill="#f2331c" stroke="#b02a18"/>
<circle cx="219.9" cy="345.4" r="6.65" fill="#f2331c" stroke="#b02a18"/>
<circle cx="214.5" cy="356.8" r="6.65" fill="#f2331c" stroke="#b02a18"/>
<circle cx="268.1" cy="348.6" r="6.65" fill="#f2331c" stroke="#b02a18"/>
<circle cx="269.5" cy="476.3" r="6.65" fill="#f8ec1c" stroke="#b8a810"/>
<circle cx="316.8" cy="470.8" r="6.65" fill="#f2331c" stroke="#b02a18"/>
<circle cx="247.1" cy="500.4" r="6.65" fill="#f2331c" stroke="#b02a18"/>
<circle cx="254.8" cy="403.5" r="6.55" fill="#f27810" stroke="#b85a10"/>
<circle cx="263.9" cy="323.9" r="6.35" fill="#f2331c" stroke="#b02a18"/>
<circle cx="223.1" cy="360.5" r="6.35" fill="#f2331c" stroke="#b02a18"/>
<circle cx="228.0" cy="351.0" r="6.35" fill="#f2331c" stroke="#b02a18"/>
<circle cx="236.2" cy="433.1" r="6.35" fill="#f27810" stroke="#b85a10"/>
<circle cx="255.6" cy="427.2" r="6.35" fill="#f2331c" stroke="#b02a18"/>
<circle cx="287.6" cy="447.6" r="6.35" fill="#f2331c" stroke="#b02a18"/>
<circle cx="213.0" cy="457.5" r="6.35" fill="#f2331c" stroke="#b02a18"/>
<circle cx="297.6" cy="479.9" r="6.35" fill="#f27810" stroke="#b85a10"/>
<circle cx="309.6" cy="498.1" r="6.35" fill="#f27810" stroke="#b85a10"/>
<circle cx="259.5" cy="488.5" r="6.35" fill="#f2331c" stroke="#b02a18"/>
<circle cx="292.1" cy="415.3" r="6.25" fill="#f27810" stroke="#b85a10"/>
<circle cx="283.0" cy="382.1" r="5.85" fill="#f2331c" stroke="#b02a18"/>
<circle cx="264.5" cy="453.5" r="5.85" fill="#f2331c" stroke="#b02a18"/>
<circle cx="342.6" cy="469.6" r="5.85" fill="#f27810" stroke="#b85a10"/>
<circle cx="229.0" cy="410.3" r="5.65" fill="#f8ec1c" stroke="#b8a810"/>
<circle cx="288.9" cy="361.3" r="5.55" fill="#f2331c" stroke="#b02a18"/>
<circle cx="212.7" cy="385.3" r="5.35" fill="#12994a" stroke="#0c6a2a"/>
<circle cx="279.5" cy="473.1" r="5.35" fill="#f8ec1c" stroke="#b8a810"/>
<circle cx="317.7" cy="478.2" r="5.35" fill="#f27810" stroke="#b85a10"/>
<circle cx="302.7" cy="467.2" r="5.35" fill="#f2331c" stroke="#b02a18"/>
<circle cx="318.1" cy="496.6" r="5.35" fill="#f2331c" stroke="#b02a18"/>
<circle cx="313.9" cy="450.8" r="5.15" fill="#f27810" stroke="#b85a10"/>
<circle cx="281.4" cy="497.6" r="5.15" fill="#8cd27e" stroke="#6a9e5a"/>
<circle cx="218.0" cy="306.8" r="4.95" fill="#f27810" stroke="#b85a10"/>
<circle cx="264.3" cy="316.8" r="4.95" fill="#f27810" stroke="#b85a10"/>
<circle cx="230.3" cy="390.9" r="4.95" fill="#f27810" stroke="#b85a10"/>
<circle cx="221.7" cy="408.5" r="4.95" fill="#f27810" stroke="#b85a10"/>
<circle cx="222.4" cy="438.7" r="4.95" fill="#f27810" stroke="#b85a10"/>
<circle cx="262.2" cy="439.4" r="4.95" fill="#f8ec1c" stroke="#b8a810"/>
<circle cx="210.8" cy="487.8" r="4.95" fill="#f27810" stroke="#b85a10"/>
<circle cx="185.8" cy="265.8" r="4.85" fill="#f2331c" stroke="#b02a18"/>
<circle cx="205.3" cy="251.5" r="4.85" fill="#f8ec1c" stroke="#b8a810"/>
<circle cx="286.2" cy="336.0" r="4.85" fill="#f8ec1c" stroke="#b8a810"/>
<circle cx="296.2" cy="372.1" r="4.85" fill="#f27810" stroke="#b85a10"/>
<circle cx="279.5" cy="421.7" r="4.85" fill="#f27810" stroke="#b85a10"/>
<circle cx="348.1" cy="411.6" r="4.85" fill="#f8ec1c" stroke="#b8a810"/>
<circle cx="244.8" cy="428.0" r="4.85" fill="#f8ec1c" stroke="#b8a810"/>
<circle cx="271.7" cy="430.0" r="4.85" fill="#f2331c" stroke="#b02a18"/>
<circle cx="271.3" cy="464.9" r="4.85" fill="#f2331c" stroke="#b02a18"/>
<circle cx="200.3" cy="458.2" r="4.85" fill="#f27810" stroke="#b85a10"/>
<circle cx="206.3" cy="469.0" r="4.85" fill="#f27810" stroke="#b85a10"/>
<circle cx="263.2" cy="467.8" r="4.85" fill="#f27810" stroke="#b85a10"/>
<circle cx="309.3" cy="481.0" r="4.85" fill="#f8ec1c" stroke="#b8a810"/>
<circle cx="333.1" cy="470.3" r="4.85" fill="#f8ec1c" stroke="#b8a810"/>
<circle cx="327.2" cy="479.6" r="4.85" fill="#f27810" stroke="#b85a10"/>
<circle cx="227.5" cy="505.9" r="4.85" fill="#f8ec1c" stroke="#b8a810"/>
<circle cx="191.0" cy="257.5" r="4.75" fill="#12994a" stroke="#0c6a2a"/>
<circle cx="173.6" cy="279.6" r="4.75" fill="#f8ec1c" stroke="#b8a810"/>
<circle cx="169.5" cy="255.8" r="4.45" fill="#f8ec1c" stroke="#b8a810"/>
<circle cx="177.7" cy="271.7" r="4.35" fill="#f27810" stroke="#b85a10"/>
<circle cx="254.5" cy="324.5" r="4.35" fill="#f27810" stroke="#b85a10"/>
<circle cx="239.9" cy="403.1" r="4.35" fill="#f27810" stroke="#b85a10"/>
<circle cx="348.8" cy="418.1" r="4.35" fill="#f27810" stroke="#b85a10"/>
<circle cx="334.9" cy="450.0" r="4.35" fill="#12994a" stroke="#0c6a2a"/>
<circle cx="277.1" cy="450.8" r="4.35" fill="#f8ec1c" stroke="#b8a810"/>
<circle cx="196.9" cy="465.6" r="4.35" fill="#f27810" stroke="#b85a10"/>
<circle cx="315.9" cy="444.3" r="4.35" fill="#f27810" stroke="#b85a10"/>
<circle cx="309.3" cy="466.0" r="4.35" fill="#f27810" stroke="#b85a10"/>
<circle cx="308.2" cy="467.4" r="4.35" fill="#f27810" stroke="#b85a10"/>
<circle cx="216.3" cy="392.6" r="3.85" fill="#f27810" stroke="#b85a10"/>
<circle cx="265.4" cy="424.4" r="3.85" fill="#8cd27e" stroke="#6a9e5a"/>
<circle cx="279.0" cy="430.0" r="3.85" fill="#f8ec1c" stroke="#b8a810"/>
<circle cx="213.5" cy="472.4" r="3.85" fill="#f27810" stroke="#b85a10"/>
<circle cx="333.5" cy="475.7" r="3.85" fill="#f8ec1c" stroke="#b8a810"/>
<circle cx="335.8" cy="482.0" r="3.85" fill="#f8ec1c" stroke="#b8a810"/>
<circle cx="175.9" cy="254.0" r="3.55" fill="#8cd27e" stroke="#6a9e5a"/>
<circle cx="340.8" cy="479.2" r="3.55" fill="#12994a" stroke="#0c6a2a"/>
<circle cx="175.9" cy="256.6" r="3.35" fill="#12994a" stroke="#0c6a2a"/>
<circle cx="193.0" cy="254.2" r="3.35" fill="#12994a" stroke="#0c6a2a"/>
<circle cx="294.9" cy="404.0" r="3.35" fill="#f27810" stroke="#b85a10"/>
<circle cx="311.6" cy="405.6" r="3.35" fill="#f2331c" stroke="#b02a18"/>
<circle cx="295.3" cy="449.0" r="3.35" fill="#f8ec1c" stroke="#b8a810"/>
<circle cx="208.5" cy="451.2" r="3.35" fill="#f2331c" stroke="#b02a18"/>
<circle cx="325.8" cy="470.1" r="3.35" fill="#12994a" stroke="#0c6a2a"/>
<circle cx="248.9" cy="484.9" r="3.35" fill="#f8ec1c" stroke="#b8a810"/>
<circle cx="301.2" cy="496.6" r="3.35" fill="#f27810" stroke="#b85a10"/>
<circle cx="196.2" cy="249.3" r="3.15" fill="#12994a" stroke="#0c6a2a"/>
<circle cx="199.9" cy="298.0" r="3.15" fill="#f8ec1c" stroke="#b8a810"/>
<circle cx="251.5" cy="318.6" r="3.15" fill="#f8ec1c" stroke="#b8a810"/>
<circle cx="202.7" cy="379.6" r="3.15" fill="#f8ec1c" stroke="#b8a810"/>
<circle cx="281.3" cy="398.6" r="3.15" fill="#f8ec1c" stroke="#b8a810"/>
<circle cx="325.5" cy="408.6" r="3.15" fill="#12994a" stroke="#0c6a2a"/>
<circle cx="329.3" cy="431.2" r="3.15" fill="#12994a" stroke="#0c6a2a"/>
<circle cx="337.2" cy="442.6" r="3.15" fill="#12994a" stroke="#0c6a2a"/>
<circle cx="244.8" cy="437.9" r="3.15" fill="#12994a" stroke="#0c6a2a"/>
<circle cx="294.8" cy="442.4" r="3.15" fill="#12994a" stroke="#0c6a2a"/>
<circle cx="223.9" cy="491.3" r="3.15" fill="#f27810" stroke="#b85a10"/>
<circle cx="233.9" cy="478.3" r="3.15" fill="#12994a" stroke="#0c6a2a"/>
<circle cx="160.2" cy="517.1" r="3.15" fill="#f8ec1c" stroke="#b8a810"/>
<circle cx="227.5" cy="229.2" r="3.05" fill="#12994a" stroke="#0c6a2a"/>
<circle cx="205.9" cy="236.6" r="3.05" fill="#f27810" stroke="#b85a10"/>
<circle cx="186.7" cy="257.4" r="3.05" fill="#f8ec1c" stroke="#b8a810"/>
<circle cx="214.8" cy="260.1" r="3.05" fill="#f8ec1c" stroke="#b8a810"/>
<circle cx="201.5" cy="318.2" r="3.05" fill="#12994a" stroke="#0c6a2a"/>
<circle cx="200.3" cy="322.9" r="3.05" fill="#f8ec1c" stroke="#b8a810"/>
<circle cx="222.7" cy="333.3" r="3.05" fill="#12994a" stroke="#0c6a2a"/>
<circle cx="209.6" cy="342.7" r="3.05" fill="#f8ec1c" stroke="#b8a810"/>
<circle cx="292.5" cy="343.8" r="3.05" fill="#f8ec1c" stroke="#b8a810"/>
<circle cx="218.4" cy="369.0" r="3.05" fill="#12994a" stroke="#0c6a2a"/>
<circle cx="209.8" cy="382.5" r="3.05" fill="#12994a" stroke="#0c6a2a"/>
<circle cx="277.1" cy="376.7" r="3.05" fill="#12994a" stroke="#0c6a2a"/>
<circle cx="272.2" cy="379.8" r="3.05" fill="#12994a" stroke="#0c6a2a"/>
<circle cx="308.3" cy="385.8" r="3.05" fill="#12994a" stroke="#0c6a2a"/>
<circle cx="237.1" cy="388.6" r="3.05" fill="#12994a" stroke="#0c6a2a"/>
<circle cx="242.6" cy="390.4" r="3.05" fill="#12994a" stroke="#0c6a2a"/>
<circle cx="307.8" cy="422.0" r="3.05" fill="#8cd27e" stroke="#6a9e5a"/>
<circle cx="312.1" cy="428.5" r="3.05" fill="#12994a" stroke="#0c6a2a"/>
<circle cx="321.3" cy="421.0" r="3.05" fill="#f8ec1c" stroke="#b8a810"/>
<circle cx="320.9" cy="428.7" r="3.05" fill="#f8ec1c" stroke="#b8a810"/>
<circle cx="321.7" cy="438.4" r="3.05" fill="#12994a" stroke="#0c6a2a"/>
<circle cx="313.0" cy="437.2" r="3.05" fill="#f8ec1c" stroke="#b8a810"/>
<circle cx="251.0" cy="433.3" r="3.05" fill="#12994a" stroke="#0c6a2a"/>
<circle cx="305.2" cy="447.4" r="3.05" fill="#f8ec1c" stroke="#b8a810"/>
<circle cx="298.9" cy="450.5" r="3.05" fill="#12994a" stroke="#0c6a2a"/>
<circle cx="183.7" cy="450.0" r="3.05" fill="#f8ec1c" stroke="#b8a810"/>
<circle cx="204.5" cy="462.0" r="3.05" fill="#f8ec1c" stroke="#b8a810"/>
<circle cx="177.8" cy="486.4" r="3.05" fill="#f8ec1c" stroke="#b8a810"/>
<circle cx="228.9" cy="475.2" r="3.05" fill="#f8ec1c" stroke="#b8a810"/>
<circle cx="257.9" cy="478.7" r="3.05" fill="#f8ec1c" stroke="#b8a810"/>
<circle cx="182.9" cy="483.6" r="3.05" fill="#f27810" stroke="#b85a10"/>
<circle cx="151.4" cy="520.7" r="3.05" fill="#f8ec1c" stroke="#b8a810"/>
<circle cx="145.4" cy="522.2" r="3.05" fill="#12994a" stroke="#0c6a2a"/>
<circle cx="187.1" cy="185.8" r="2.95" fill="#f27810" stroke="#b85a10"/>
<circle cx="209.5" cy="177.8" r="2.95" fill="#8cd27e" stroke="#6a9e5a"/>
<circle cx="169.1" cy="270.1" r="2.95" fill="#12994a" stroke="#0c6a2a"/>
<circle cx="195.9" cy="379.9" r="2.95" fill="#12994a" stroke="#0c6a2a"/>
<circle cx="283.0" cy="360.4" r="2.95" fill="#12994a" stroke="#0c6a2a"/>
<circle cx="194.3" cy="380.6" r="2.95" fill="#12994a" stroke="#0c6a2a"/>
<circle cx="212.7" cy="395.6" r="2.95" fill="#8cd27e" stroke="#6a9e5a"/>
<circle cx="237.1" cy="473.3" r="2.95" fill="#8cd27e" stroke="#6a9e5a"/>
<circle cx="307.1" cy="474.6" r="2.95" fill="#12994a" stroke="#0c6a2a"/>
<circle cx="150.4" cy="526.2" r="2.95" fill="#f8ec1c" stroke="#b8a810"/>
<circle cx="269.0" cy="359.5" r="2.85" fill="#f8ec1c" stroke="#b8a810"/>
<circle cx="274.4" cy="360.8" r="2.85" fill="#8cd27e" stroke="#6a9e5a"/>
<circle cx="247.1" cy="384.1" r="2.85" fill="#8cd27e" stroke="#6a9e5a"/>
<circle cx="297.6" cy="425.5" r="2.85" fill="#f8ec1c" stroke="#b8a810"/>
<circle cx="264.5" cy="428.0" r="2.85" fill="#8cd27e" stroke="#6a9e5a"/>
<circle cx="294.3" cy="424.8" r="2.85" fill="#8cd27e" stroke="#6a9e5a"/>
<circle cx="298.0" cy="426.0" r="2.85" fill="#f8ec1c" stroke="#b8a810"/>
<circle cx="268.1" cy="446.9" r="2.85" fill="#12994a" stroke="#0c6a2a"/>
<circle cx="263.6" cy="457.0" r="2.85" fill="#f8ec1c" stroke="#b8a810"/>
<circle cx="283.5" cy="455.5" r="2.85" fill="#f8ec1c" stroke="#b8a810"/>
<circle cx="180.9" cy="455.5" r="2.85" fill="#f27810" stroke="#b85a10"/>
<circle cx="203.4" cy="452.0" r="2.85" fill="#f8ec1c" stroke="#b8a810"/>
<circle cx="239.8" cy="466.9" r="2.85" fill="#8cd27e" stroke="#6a9e5a"/>
<circle cx="238.9" cy="470.4" r="2.85" fill="#8cd27e" stroke="#6a9e5a"/>
<circle cx="284.0" cy="479.2" r="2.85" fill="#8cd27e" stroke="#6a9e5a"/>
<circle cx="321.1" cy="452.9" r="2.85" fill="#f8ec1c" stroke="#b8a810"/>
<circle cx="268.2" cy="501.4" r="2.85" fill="#12994a" stroke="#0c6a2a"/>
<circle cx="309.6" cy="494.3" r="2.85" fill="#12994a" stroke="#0c6a2a"/>
<circle cx="276.7" cy="483.7" r="2.85" fill="#f8ec1c" stroke="#b8a810"/>
<circle cx="195.0" cy="510.0" r="2.85" fill="#f27810" stroke="#b85a10"/>
<circle cx="151.4" cy="513.4" r="2.85" fill="#8cd27e" stroke="#6a9e5a"/>
<circle cx="199.9" cy="259.6" r="2.75" fill="#8cd27e" stroke="#6a9e5a"/>
<circle cx="214.0" cy="476.5" r="2.75" fill="#8cd27e" stroke="#6a9e5a"/>
<circle cx="192.2" cy="248.9" r="2.65" fill="#f8ec1c" stroke="#b8a810"/>
<circle cx="211.3" cy="364.5" r="2.65" fill="#8cd27e" stroke="#6a9e5a"/>
<circle cx="214.0" cy="481.9" r="2.65" fill="#f8ec1c" stroke="#b8a810"/>
<circle cx="268.2" cy="505.1" r="2.65" fill="#8cd27e" stroke="#6a9e5a"/>
<circle cx="173.1" cy="272.3" r="2.55" fill="#f8ec1c" stroke="#b8a810"/>
<circle cx="256.9" cy="452.4" r="2.55" fill="#8cd27e" stroke="#6a9e5a"/>
<circle cx="212.3" cy="245.4" r="2.45" fill="#8cd27e" stroke="#6a9e5a"/>
<circle cx="216.9" cy="246.0" r="2.45" fill="#f8ec1c" stroke="#b8a810"/></g>
<use href="#geo" transform="translate(432,0)"/>
<use href="#bnd" transform="translate(432,0)"/>
<g stroke-width="0.55"><circle cx="668.7" cy="355.4" r="5.85" fill="#f27810" stroke="#b85a10"/>
<circle cx="653.7" cy="380.3" r="3.95" fill="#f2331c" stroke="#b02a18"/>
<circle cx="688.8" cy="345.9" r="4.35" fill="#f8ec1c" stroke="#b8a810"/>
<circle cx="683.0" cy="379.5" r="4.85" fill="#f2331c" stroke="#b02a18"/>
<circle cx="700.5" cy="385.5" r="5.35" fill="#f2331c" stroke="#b02a18"/>
<circle cx="615.8" cy="260.5" r="14.35" fill="#f2331c" stroke="#b02a18"/>
<circle cx="666.5" cy="370.5" r="13.85" fill="#f2331c" stroke="#b02a18"/>
<circle cx="723.2" cy="466.5" r="13.85" fill="#f2331c" stroke="#b02a18"/>
<circle cx="675.9" cy="417.5" r="13.45" fill="#f2331c" stroke="#b02a18"/>
<circle cx="643.2" cy="257.0" r="11.85" fill="#f2331c" stroke="#b02a18"/>
<circle cx="697.9" cy="493.2" r="11.15" fill="#f2331c" stroke="#b02a18"/>
<circle cx="686.5" cy="302.8" r="10.85" fill="#f2331c" stroke="#b02a18"/>
<circle cx="684.2" cy="354.5" r="10.85" fill="#f2331c" stroke="#b02a18"/>
<circle cx="658.0" cy="467.0" r="10.85" fill="#f2331c" stroke="#b02a18"/>
<circle cx="636.0" cy="255.5" r="7.85" fill="#f2331c" stroke="#b02a18"/>
<circle cx="695.5" cy="374.4" r="7.35" fill="#f2331c" stroke="#b02a18"/>
<circle cx="693.6" cy="395.8" r="7.35" fill="#f2331c" stroke="#b02a18"/>
<circle cx="668.2" cy="447.5" r="7.35" fill="#f27810" stroke="#b85a10"/>
<circle cx="650.3" cy="233.3" r="7.25" fill="#f27810" stroke="#b85a10"/>
<circle cx="645.1" cy="372.6" r="7.15" fill="#f2331c" stroke="#b02a18"/>
<circle cx="767.8" cy="409.4" r="7.15" fill="#f2331c" stroke="#b02a18"/>
<circle cx="736.4" cy="430.0" r="7.05" fill="#f27810" stroke="#b85a10"/>
<circle cx="611.8" cy="516.1" r="7.05" fill="#f2331c" stroke="#b02a18"/>
<circle cx="672.7" cy="201.8" r="6.95" fill="#f27810" stroke="#b85a10"/>
<circle cx="711.0" cy="439.9" r="6.95" fill="#f2331c" stroke="#b02a18"/>
<circle cx="690.4" cy="383.5" r="6.85" fill="#f27810" stroke="#b85a10"/>
<circle cx="670.0" cy="395.4" r="6.85" fill="#f2331c" stroke="#b02a18"/>
<circle cx="700.0" cy="399.0" r="6.85" fill="#f2331c" stroke="#b02a18"/>
<circle cx="766.8" cy="436.2" r="6.85" fill="#f27810" stroke="#b85a10"/>
<circle cx="758.3" cy="445.4" r="6.85" fill="#f27810" stroke="#b85a10"/>
<circle cx="672.3" cy="446.3" r="6.85" fill="#f27810" stroke="#b85a10"/>
<circle cx="719.1" cy="435.4" r="6.85" fill="#f27810" stroke="#b85a10"/>
<circle cx="681.4" cy="461.7" r="6.85" fill="#f27810" stroke="#b85a10"/>
<circle cx="620.1" cy="457.8" r="6.85" fill="#f2331c" stroke="#b02a18"/>
<circle cx="724.7" cy="497.1" r="6.85" fill="#f27810" stroke="#b85a10"/>
<circle cx="630.1" cy="500.9" r="6.85" fill="#f8ec1c" stroke="#b8a810"/>
<circle cx="628.7" cy="513.4" r="6.85" fill="#f27810" stroke="#b85a10"/>
<circle cx="651.9" cy="345.4" r="6.65" fill="#f27810" stroke="#b85a10"/>
<circle cx="646.5" cy="356.8" r="6.65" fill="#f2331c" stroke="#b02a18"/>
<circle cx="700.1" cy="348.6" r="6.65" fill="#f27810" stroke="#b85a10"/>
<circle cx="701.5" cy="476.3" r="6.65" fill="#f2331c" stroke="#b02a18"/>
<circle cx="748.8" cy="470.8" r="6.65" fill="#f2331c" stroke="#b02a18"/>
<circle cx="679.1" cy="500.4" r="6.65" fill="#f2331c" stroke="#b02a18"/>
<circle cx="686.8" cy="403.5" r="6.55" fill="#f27810" stroke="#b85a10"/>
<circle cx="695.9" cy="323.9" r="6.35" fill="#f2331c" stroke="#b02a18"/>
<circle cx="655.1" cy="360.5" r="6.35" fill="#f2331c" stroke="#b02a18"/>
<circle cx="660.0" cy="351.0" r="6.35" fill="#f2331c" stroke="#b02a18"/>
<circle cx="668.2" cy="433.1" r="6.35" fill="#f27810" stroke="#b85a10"/>
<circle cx="687.6" cy="427.2" r="6.35" fill="#f8ec1c" stroke="#b8a810"/>
<circle cx="719.6" cy="447.6" r="6.35" fill="#f2331c" stroke="#b02a18"/>
<circle cx="645.0" cy="457.5" r="6.35" fill="#f2331c" stroke="#b02a18"/>
<circle cx="729.6" cy="479.9" r="6.35" fill="#f2331c" stroke="#b02a18"/>
<circle cx="741.6" cy="498.1" r="6.35" fill="#f27810" stroke="#b85a10"/>
<circle cx="691.5" cy="488.5" r="6.35" fill="#f2331c" stroke="#b02a18"/>
<circle cx="724.1" cy="415.3" r="6.25" fill="#f2331c" stroke="#b02a18"/>
<circle cx="715.0" cy="382.1" r="5.85" fill="#f27810" stroke="#b85a10"/>
<circle cx="696.5" cy="453.5" r="5.85" fill="#f27810" stroke="#b85a10"/>
<circle cx="774.6" cy="469.6" r="5.85" fill="#f27810" stroke="#b85a10"/>
<circle cx="661.0" cy="410.3" r="5.65" fill="#f2331c" stroke="#b02a18"/>
<circle cx="720.9" cy="361.3" r="5.55" fill="#f2331c" stroke="#b02a18"/>
<circle cx="644.7" cy="385.3" r="5.35" fill="#f2331c" stroke="#b02a18"/>
<circle cx="711.5" cy="473.1" r="5.35" fill="#f2331c" stroke="#b02a18"/>
<circle cx="749.7" cy="478.2" r="5.35" fill="#f8ec1c" stroke="#b8a810"/>
<circle cx="734.7" cy="467.2" r="5.35" fill="#f2331c" stroke="#b02a18"/>
<circle cx="750.1" cy="496.6" r="5.35" fill="#f27810" stroke="#b85a10"/>
<circle cx="745.9" cy="450.8" r="5.15" fill="#f27810" stroke="#b85a10"/>
<circle cx="713.4" cy="497.6" r="5.15" fill="#f8ec1c" stroke="#b8a810"/>
<circle cx="650.0" cy="306.8" r="4.95" fill="#f27810" stroke="#b85a10"/>
<circle cx="696.3" cy="316.8" r="4.95" fill="#f8ec1c" stroke="#b8a810"/>
<circle cx="662.3" cy="390.9" r="4.95" fill="#f2331c" stroke="#b02a18"/>
<circle cx="653.7" cy="408.5" r="4.95" fill="#f27810" stroke="#b85a10"/>
<circle cx="654.4" cy="438.7" r="4.95" fill="#f8ec1c" stroke="#b8a810"/>
<circle cx="694.2" cy="439.4" r="4.95" fill="#8cd27e" stroke="#6a9e5a"/>
<circle cx="642.8" cy="487.8" r="4.95" fill="#f27810" stroke="#b85a10"/>
<circle cx="617.8" cy="265.8" r="4.85" fill="#f27810" stroke="#b85a10"/>
<circle cx="637.3" cy="251.5" r="4.85" fill="#f27810" stroke="#b85a10"/>
<circle cx="718.2" cy="336.0" r="4.85" fill="#12994a" stroke="#0c6a2a"/>
<circle cx="728.2" cy="372.1" r="4.85" fill="#f27810" stroke="#b85a10"/>
<circle cx="711.5" cy="421.7" r="4.85" fill="#f8ec1c" stroke="#b8a810"/>
<circle cx="780.1" cy="411.6" r="4.85" fill="#f8ec1c" stroke="#b8a810"/>
<circle cx="676.8" cy="428.0" r="4.85" fill="#f27810" stroke="#b85a10"/>
<circle cx="703.7" cy="430.0" r="4.85" fill="#f27810" stroke="#b85a10"/>
<circle cx="703.3" cy="464.9" r="4.85" fill="#f2331c" stroke="#b02a18"/>
<circle cx="632.3" cy="458.2" r="4.85" fill="#f27810" stroke="#b85a10"/>
<circle cx="638.3" cy="469.0" r="4.85" fill="#f8ec1c" stroke="#b8a810"/>
<circle cx="695.2" cy="467.8" r="4.85" fill="#f8ec1c" stroke="#b8a810"/>
<circle cx="741.3" cy="481.0" r="4.85" fill="#8cd27e" stroke="#6a9e5a"/>
<circle cx="765.1" cy="470.3" r="4.85" fill="#f27810" stroke="#b85a10"/>
<circle cx="759.2" cy="479.6" r="4.85" fill="#f27810" stroke="#b85a10"/>
<circle cx="659.5" cy="505.9" r="4.85" fill="#f8ec1c" stroke="#b8a810"/>
<circle cx="623.0" cy="257.5" r="4.75" fill="#f27810" stroke="#b85a10"/>
<circle cx="605.6" cy="279.6" r="4.75" fill="#f27810" stroke="#b85a10"/>
<circle cx="601.5" cy="255.8" r="4.45" fill="#f8ec1c" stroke="#b8a810"/>
<circle cx="609.7" cy="271.7" r="4.35" fill="#f8ec1c" stroke="#b8a810"/>
<circle cx="686.5" cy="324.5" r="4.35" fill="#f8ec1c" stroke="#b8a810"/>
<circle cx="671.9" cy="403.1" r="4.35" fill="#f27810" stroke="#b85a10"/>
<circle cx="780.8" cy="418.1" r="4.35" fill="#f27810" stroke="#b85a10"/>
<circle cx="766.9" cy="450.0" r="4.35" fill="#12994a" stroke="#0c6a2a"/>
<circle cx="709.1" cy="450.8" r="4.35" fill="#f27810" stroke="#b85a10"/>
<circle cx="628.9" cy="465.6" r="4.35" fill="#f2331c" stroke="#b02a18"/>
<circle cx="747.9" cy="444.3" r="4.35" fill="#f27810" stroke="#b85a10"/>
<circle cx="741.3" cy="466.0" r="4.35" fill="#f27810" stroke="#b85a10"/>
<circle cx="740.2" cy="467.4" r="4.35" fill="#f27810" stroke="#b85a10"/>
<circle cx="648.3" cy="392.6" r="3.85" fill="#f8ec1c" stroke="#b8a810"/>
<circle cx="697.4" cy="424.4" r="3.85" fill="#f8ec1c" stroke="#b8a810"/>
<circle cx="711.0" cy="430.0" r="3.85" fill="#f8ec1c" stroke="#b8a810"/>
<circle cx="645.5" cy="472.4" r="3.85" fill="#f27810" stroke="#b85a10"/>
<circle cx="765.5" cy="475.7" r="3.85" fill="#8cd27e" stroke="#6a9e5a"/>
<circle cx="767.8" cy="482.0" r="3.85" fill="#8cd27e" stroke="#6a9e5a"/>
<circle cx="607.9" cy="254.0" r="3.55" fill="#12994a" stroke="#0c6a2a"/>
<circle cx="772.8" cy="479.2" r="3.55" fill="#12994a" stroke="#0c6a2a"/>
<circle cx="607.9" cy="256.6" r="3.35" fill="#12994a" stroke="#0c6a2a"/>
<circle cx="625.0" cy="254.2" r="3.35" fill="#8cd27e" stroke="#6a9e5a"/>
<circle cx="726.9" cy="404.0" r="3.35" fill="#f27810" stroke="#b85a10"/>
<circle cx="743.6" cy="405.6" r="3.35" fill="#f27810" stroke="#b85a10"/>
<circle cx="727.3" cy="449.0" r="3.35" fill="#f27810" stroke="#b85a10"/>
<circle cx="640.5" cy="451.2" r="3.35" fill="#f8ec1c" stroke="#b8a810"/>
<circle cx="757.8" cy="470.1" r="3.35" fill="#8cd27e" stroke="#6a9e5a"/>
<circle cx="680.9" cy="484.9" r="3.35" fill="#f8ec1c" stroke="#b8a810"/>
<circle cx="733.2" cy="496.6" r="3.35" fill="#f8ec1c" stroke="#b8a810"/>
<circle cx="628.2" cy="249.3" r="3.15" fill="#12994a" stroke="#0c6a2a"/>
<circle cx="631.9" cy="298.0" r="3.15" fill="#f8ec1c" stroke="#b8a810"/>
<circle cx="683.5" cy="318.6" r="3.15" fill="#8cd27e" stroke="#6a9e5a"/>
<circle cx="634.7" cy="379.6" r="3.15" fill="#f8ec1c" stroke="#b8a810"/>
<circle cx="713.3" cy="398.6" r="3.15" fill="#f8ec1c" stroke="#b8a810"/>
<circle cx="736.8" cy="411.0" r="3.15" fill="#12994a" stroke="#0c6a2a"/>
<circle cx="757.5" cy="408.6" r="3.15" fill="#12994a" stroke="#0c6a2a"/>
<circle cx="761.3" cy="431.2" r="3.15" fill="#12994a" stroke="#0c6a2a"/>
<circle cx="769.2" cy="442.6" r="3.15" fill="#12994a" stroke="#0c6a2a"/>
<circle cx="676.8" cy="437.9" r="3.15" fill="#12994a" stroke="#0c6a2a"/>
<circle cx="726.8" cy="442.4" r="3.15" fill="#f8ec1c" stroke="#b8a810"/>
<circle cx="655.9" cy="491.3" r="3.15" fill="#f27810" stroke="#b85a10"/>
<circle cx="665.9" cy="478.3" r="3.15" fill="#12994a" stroke="#0c6a2a"/>
<circle cx="592.2" cy="517.1" r="3.15" fill="#8cd27e" stroke="#6a9e5a"/>
<circle cx="659.5" cy="229.2" r="3.05" fill="#12994a" stroke="#0c6a2a"/>
<circle cx="637.9" cy="236.6" r="3.05" fill="#8cd27e" stroke="#6a9e5a"/>
<circle cx="618.7" cy="257.4" r="3.05" fill="#8cd27e" stroke="#6a9e5a"/>
<circle cx="646.8" cy="260.1" r="3.05" fill="#f8ec1c" stroke="#b8a810"/>
<circle cx="633.5" cy="318.2" r="3.05" fill="#8cd27e" stroke="#6a9e5a"/>
<circle cx="632.3" cy="322.9" r="3.05" fill="#8cd27e" stroke="#6a9e5a"/>
<circle cx="654.7" cy="333.3" r="3.05" fill="#8cd27e" stroke="#6a9e5a"/>
<circle cx="641.6" cy="342.7" r="3.05" fill="#12994a" stroke="#0c6a2a"/>
<circle cx="724.5" cy="343.8" r="3.05" fill="#8cd27e" stroke="#6a9e5a"/>
<circle cx="650.4" cy="369.0" r="3.05" fill="#12994a" stroke="#0c6a2a"/>
<circle cx="641.8" cy="382.5" r="3.05" fill="#8cd27e" stroke="#6a9e5a"/>
<circle cx="709.1" cy="376.7" r="3.05" fill="#12994a" stroke="#0c6a2a"/>
<circle cx="704.2" cy="379.8" r="3.05" fill="#12994a" stroke="#0c6a2a"/>
<circle cx="740.3" cy="385.8" r="3.05" fill="#12994a" stroke="#0c6a2a"/>
<circle cx="669.1" cy="388.6" r="3.05" fill="#8cd27e" stroke="#6a9e5a"/>
<circle cx="674.6" cy="390.4" r="3.05" fill="#12994a" stroke="#0c6a2a"/>
<circle cx="739.8" cy="422.0" r="3.05" fill="#12994a" stroke="#0c6a2a"/>
<circle cx="744.1" cy="428.5" r="3.05" fill="#12994a" stroke="#0c6a2a"/>
<circle cx="753.3" cy="421.0" r="3.05" fill="#f27810" stroke="#b85a10"/>
<circle cx="752.9" cy="428.7" r="3.05" fill="#f8ec1c" stroke="#b8a810"/>
<circle cx="753.7" cy="438.4" r="3.05" fill="#8cd27e" stroke="#6a9e5a"/>
<circle cx="745.0" cy="437.2" r="3.05" fill="#8cd27e" stroke="#6a9e5a"/>
<circle cx="683.0" cy="433.3" r="3.05" fill="#8cd27e" stroke="#6a9e5a"/>
<circle cx="737.2" cy="447.4" r="3.05" fill="#8cd27e" stroke="#6a9e5a"/>
<circle cx="730.9" cy="450.5" r="3.05" fill="#f27810" stroke="#b85a10"/>
<circle cx="615.7" cy="450.0" r="3.05" fill="#f8ec1c" stroke="#b8a810"/>
<circle cx="636.5" cy="462.0" r="3.05" fill="#12994a" stroke="#0c6a2a"/>
<circle cx="609.8" cy="486.4" r="3.05" fill="#8cd27e" stroke="#6a9e5a"/>
<circle cx="660.9" cy="475.2" r="3.05" fill="#f27810" stroke="#b85a10"/>
<circle cx="689.9" cy="478.7" r="3.05" fill="#f27810" stroke="#b85a10"/>
<circle cx="614.9" cy="483.6" r="3.05" fill="#f8ec1c" stroke="#b8a810"/>
<circle cx="583.4" cy="520.7" r="3.05" fill="#8cd27e" stroke="#6a9e5a"/>
<circle cx="577.4" cy="522.2" r="3.05" fill="#f27810" stroke="#b85a10"/>
<circle cx="619.1" cy="185.8" r="2.95" fill="#f8ec1c" stroke="#b8a810"/>
<circle cx="641.5" cy="177.8" r="2.95" fill="#f8ec1c" stroke="#b8a810"/>
<circle cx="601.1" cy="270.1" r="2.95" fill="#f8ec1c" stroke="#b8a810"/>
<circle cx="627.9" cy="379.9" r="2.95" fill="#8cd27e" stroke="#6a9e5a"/>
<circle cx="715.0" cy="360.4" r="2.95" fill="#f8ec1c" stroke="#b8a810"/>
<circle cx="626.3" cy="380.6" r="2.95" fill="#8cd27e" stroke="#6a9e5a"/>
<circle cx="644.7" cy="395.6" r="2.95" fill="#8cd27e" stroke="#6a9e5a"/>
<circle cx="669.1" cy="473.3" r="2.95" fill="#8cd27e" stroke="#6a9e5a"/>
<circle cx="739.1" cy="474.6" r="2.95" fill="#8cd27e" stroke="#6a9e5a"/>
<circle cx="582.4" cy="526.2" r="2.95" fill="#12994a" stroke="#0c6a2a"/>
<circle cx="701.0" cy="359.5" r="2.85" fill="#12994a" stroke="#0c6a2a"/>
<circle cx="706.4" cy="360.8" r="2.85" fill="#12994a" stroke="#0c6a2a"/>
<circle cx="679.1" cy="384.1" r="2.85" fill="#12994a" stroke="#0c6a2a"/>
<circle cx="729.6" cy="425.5" r="2.85" fill="#8cd27e" stroke="#6a9e5a"/>
<circle cx="696.5" cy="428.0" r="2.85" fill="#f8ec1c" stroke="#b8a810"/>
<circle cx="726.3" cy="424.8" r="2.85" fill="#8cd27e" stroke="#6a9e5a"/>
<circle cx="730.0" cy="426.0" r="2.85" fill="#8cd27e" stroke="#6a9e5a"/>
<circle cx="700.1" cy="446.9" r="2.85" fill="#8cd27e" stroke="#6a9e5a"/>
<circle cx="695.6" cy="457.0" r="2.85" fill="#f8ec1c" stroke="#b8a810"/>
<circle cx="715.5" cy="455.5" r="2.85" fill="#f8ec1c" stroke="#b8a810"/>
<circle cx="612.9" cy="455.5" r="2.85" fill="#f8ec1c" stroke="#b8a810"/>
<circle cx="635.4" cy="452.0" r="2.85" fill="#f8ec1c" stroke="#b8a810"/>
<circle cx="671.8" cy="466.9" r="2.85" fill="#8cd27e" stroke="#6a9e5a"/>
<circle cx="670.9" cy="470.4" r="2.85" fill="#8cd27e" stroke="#6a9e5a"/>
<circle cx="716.0" cy="479.2" r="2.85" fill="#8cd27e" stroke="#6a9e5a"/>
<circle cx="753.1" cy="452.9" r="2.85" fill="#8cd27e" stroke="#6a9e5a"/>
<circle cx="700.2" cy="501.4" r="2.85" fill="#12994a" stroke="#0c6a2a"/>
<circle cx="741.6" cy="494.3" r="2.85" fill="#12994a" stroke="#0c6a2a"/>
<circle cx="708.7" cy="483.7" r="2.85" fill="#8cd27e" stroke="#6a9e5a"/>
<circle cx="627.0" cy="510.0" r="2.85" fill="#f8ec1c" stroke="#b8a810"/>
<circle cx="583.4" cy="513.4" r="2.85" fill="#12994a" stroke="#0c6a2a"/>
<circle cx="631.9" cy="259.6" r="2.75" fill="#f8ec1c" stroke="#b8a810"/>
<circle cx="646.0" cy="476.5" r="2.75" fill="#8cd27e" stroke="#6a9e5a"/>
<circle cx="624.2" cy="248.9" r="2.65" fill="#f8ec1c" stroke="#b8a810"/>
<circle cx="643.3" cy="364.5" r="2.65" fill="#f8ec1c" stroke="#b8a810"/>
<circle cx="646.0" cy="481.9" r="2.65" fill="#8cd27e" stroke="#6a9e5a"/>
<circle cx="700.2" cy="505.1" r="2.65" fill="#f8ec1c" stroke="#b8a810"/>
<circle cx="605.1" cy="272.3" r="2.55" fill="#f2331c" stroke="#b02a18"/>
<circle cx="688.9" cy="452.4" r="2.55" fill="#12994a" stroke="#0c6a2a"/>
<circle cx="644.3" cy="245.4" r="2.45" fill="#f8ec1c" stroke="#b8a810"/>
<circle cx="648.9" cy="246.0" r="2.45" fill="#f27810" stroke="#b85a10"/></g>
<g font-family="Liberation Sans, Arial, sans-serif" font-weight="bold" font-size="9.4" fill="#fff" stroke="#fff" stroke-width="3" stroke-linejoin="round">
<text x="212.8" y="254.3" font-size="9.4" textLength="43.2" lengthAdjust="spacingAndGlyphs">Edinburgh</text>
<text x="255.5" y="300.5" font-size="9.4" textLength="37" lengthAdjust="spacingAndGlyphs">Tyneside</text>
<text x="252.7" y="357.1" font-size="9.4" textLength="63.2" lengthAdjust="spacingAndGlyphs">West Yorkshire</text>
<text x="236.5" y="369.3" font-size="9.4" textLength="85" lengthAdjust="spacingAndGlyphs">Greater Manchester</text>
<text x="265.9" y="393.8" font-size="9.4" textLength="50" lengthAdjust="spacingAndGlyphs">Nottingham</text>
<text x="244.8" y="414.6" font-size="9.4" textLength="60.9" lengthAdjust="spacingAndGlyphs">West Midlands</text>
<text x="208.3" y="461.7" font-size="9.4" textLength="28.9" lengthAdjust="spacingAndGlyphs">Cardiff</text>
<text x="296.5" y="461.5" font-size="9.4" textLength="66.2" lengthAdjust="spacingAndGlyphs">Greater London</text>
<text x="266.2" y="491.6" font-size="9.4" textLength="73.5" lengthAdjust="spacingAndGlyphs">South Hampshire</text>
<text x="644.5" y="255.3" font-size="8.8" textLength="40.5" lengthAdjust="spacingAndGlyphs">Edinburgh</text>
<text x="688.1" y="301.2" font-size="8.8" textLength="33.6" lengthAdjust="spacingAndGlyphs">Tyneside</text>
<text x="684.7" y="358.5" font-size="8.8" textLength="60" lengthAdjust="spacingAndGlyphs">West Yorkshire</text>
<text x="668.5" y="370.9" font-size="8.8" textLength="79.4" lengthAdjust="spacingAndGlyphs">Greater Manchester</text>
<text x="698.5" y="394.7" font-size="8.8" textLength="47.1" lengthAdjust="spacingAndGlyphs">Nottingham</text>
<text x="678" y="416.8" font-size="8.8" textLength="57.9" lengthAdjust="spacingAndGlyphs">West Midlands</text>
<text x="641" y="464" font-size="8.8" textLength="26" lengthAdjust="spacingAndGlyphs">Cardiff</text>
<text x="729" y="464" font-size="8.8" textLength="62" lengthAdjust="spacingAndGlyphs">Greater London</text>
<text x="698" y="493" font-size="8.8" textLength="69.6" lengthAdjust="spacingAndGlyphs">South Hampshire</text>
</g>
<g font-family="Liberation Sans, Arial, sans-serif" font-weight="bold" font-size="9.4" fill="#15151f" stroke="#15151f" stroke-width="0.6" stroke-linejoin="round">
<text x="212.8" y="254.3" font-size="9.4" textLength="43.2" lengthAdjust="spacingAndGlyphs">Edinburgh</text>
<text x="255.5" y="300.5" font-size="9.4" textLength="37" lengthAdjust="spacingAndGlyphs">Tyneside</text>
<text x="252.7" y="357.1" font-size="9.4" textLength="63.2" lengthAdjust="spacingAndGlyphs">West Yorkshire</text>
<text x="236.5" y="369.3" font-size="9.4" textLength="85" lengthAdjust="spacingAndGlyphs">Greater Manchester</text>
<text x="265.9" y="393.8" font-size="9.4" textLength="50" lengthAdjust="spacingAndGlyphs">Nottingham</text>
<text x="244.8" y="414.6" font-size="9.4" textLength="60.9" lengthAdjust="spacingAndGlyphs">West Midlands</text>
<text x="208.3" y="461.7" font-size="9.4" textLength="28.9" lengthAdjust="spacingAndGlyphs">Cardiff</text>
<text x="296.5" y="461.5" font-size="9.4" textLength="66.2" lengthAdjust="spacingAndGlyphs">Greater London</text>
<text x="266.2" y="491.6" font-size="9.4" textLength="73.5" lengthAdjust="spacingAndGlyphs">South Hampshire</text>
<text x="644.5" y="255.3" font-size="8.8" textLength="40.5" lengthAdjust="spacingAndGlyphs">Edinburgh</text>
<text x="688.1" y="301.2" font-size="8.8" textLength="33.6" lengthAdjust="spacingAndGlyphs">Tyneside</text>
<text x="684.7" y="358.5" font-size="8.8" textLength="60" lengthAdjust="spacingAndGlyphs">West Yorkshire</text>
<text x="668.5" y="370.9" font-size="8.8" textLength="79.4" lengthAdjust="spacingAndGlyphs">Greater Manchester</text>
<text x="698.5" y="394.7" font-size="8.8" textLength="47.1" lengthAdjust="spacingAndGlyphs">Nottingham</text>
<text x="678" y="416.8" font-size="8.8" textLength="57.9" lengthAdjust="spacingAndGlyphs">West Midlands</text>
<text x="641" y="464" font-size="8.8" textLength="26" lengthAdjust="spacingAndGlyphs">Cardiff</text>
<text x="729" y="464" font-size="8.8" textLength="62" lengthAdjust="spacingAndGlyphs">Greater London</text>
<text x="698" y="493" font-size="8.8" textLength="69.6" lengthAdjust="spacingAndGlyphs">South Hampshire</text>
</g>
<g font-family="Liberation Sans, Arial, sans-serif">
<rect x="315.5" y="46.5" width="92.5" height="105" fill="#bdbcbd" stroke="#6d6d6d" stroke-width="0.9"/>
<text x="324.9" y="63.8" font-weight="bold" font-size="10.8" fill="#111" stroke="#111" stroke-width="0.25" textLength="64" lengthAdjust="spacingAndGlyphs">Connectivity</text>
<circle cx="330.1" cy="80" r="4.1" fill="#12994a" stroke="#777" stroke-width="0.7"/>
<text x="343.7" y="83.2" font-size="9" fill="#1c1c1c" stroke="#1c1c1c" stroke-width="0.2" textLength="32" lengthAdjust="spacingAndGlyphs">Top 20%</text>
<circle cx="330.1" cy="94.5" r="4" fill="#8cd27e" stroke="#777" stroke-width="0.7"/>
<text x="343.7" y="97.5" font-size="9" fill="#1c1c1c" stroke="#1c1c1c" stroke-width="0.2" textLength="46.9" lengthAdjust="spacingAndGlyphs">Second 20%</text>
<circle cx="330.1" cy="108.8" r="3.8" fill="#f8ec1c" stroke="#777" stroke-width="0.7"/>
<text x="343.7" y="111.5" font-size="9" fill="#1c1c1c" stroke="#1c1c1c" stroke-width="0.2" textLength="38.1" lengthAdjust="spacingAndGlyphs">Third 20%</text>
<circle cx="330.6" cy="122.8" r="5.4" fill="#f27810" stroke="#777" stroke-width="0.7"/>
<text x="343.7" y="125.1" font-size="9" fill="#1c1c1c" stroke="#1c1c1c" stroke-width="0.2" textLength="43.1" lengthAdjust="spacingAndGlyphs">Fourth 20%</text>
<circle cx="330.8" cy="136.9" r="5.5" fill="#f2331c" stroke="#777" stroke-width="0.7"/>
<text x="343.7" y="139.8" font-size="9" fill="#1c1c1c" stroke="#1c1c1c" stroke-width="0.2" textLength="46.3" lengthAdjust="spacingAndGlyphs">Bottom 20%</text>
<rect x="732.5" y="46" width="105" height="95.4" fill="#bdbcbd" stroke="#6d6d6d" stroke-width="0.9"/>
<text x="739.2" y="61" font-weight="bold" font-size="10.8" fill="#111" stroke="#111" stroke-width="0.25" textLength="64" lengthAdjust="spacingAndGlyphs">Connectivity</text>
<circle cx="743.8" cy="74.8" r="3.9" fill="#12994a" stroke="#777" stroke-width="0.7"/>
<text x="756.2" y="77.6" font-size="9" fill="#1c1c1c" stroke="#1c1c1c" stroke-width="0.2" textLength="32" lengthAdjust="spacingAndGlyphs">Top 20%</text>
<circle cx="743.8" cy="88.2" r="3.9" fill="#8cd27e" stroke="#777" stroke-width="0.7"/>
<text x="756.2" y="90.9" font-size="9" fill="#1c1c1c" stroke="#1c1c1c" stroke-width="0.2" textLength="46.9" lengthAdjust="spacingAndGlyphs">Second 20%</text>
<circle cx="743.8" cy="101.6" r="3.9" fill="#f8ec1c" stroke="#777" stroke-width="0.7"/>
<text x="756.2" y="104" font-size="9" fill="#1c1c1c" stroke="#1c1c1c" stroke-width="0.2" textLength="38.1" lengthAdjust="spacingAndGlyphs">Third 20%</text>
<circle cx="743.8" cy="114.7" r="3.9" fill="#f27810" stroke="#777" stroke-width="0.7"/>
<text x="756.2" y="117.6" font-size="9" fill="#1c1c1c" stroke="#1c1c1c" stroke-width="0.2" textLength="43.1" lengthAdjust="spacingAndGlyphs">Fourth 20%</text>
<circle cx="743.8" cy="127.8" r="3.9" fill="#f2331c" stroke="#777" stroke-width="0.7"/>
<text x="756.2" y="130.8" font-size="9" fill="#1c1c1c" stroke="#1c1c1c" stroke-width="0.2" textLength="46.3" lengthAdjust="spacingAndGlyphs">Bottom 20%</text>
<rect x="9.5" y="315" width="111" height="115" fill="#bdbcbd" stroke="#6d6d6d" stroke-width="0.9"/>
<text x="16" y="325.6" font-size="6.6" fill="#1a1a1a" stroke="#1a1a1a" stroke-width="0.15" textLength="43.6" lengthAdjust="spacingAndGlyphs">Population size</text>
<circle cx="18.4" cy="334.9" r="1.5" fill="#d6d6d6" stroke="#444" stroke-width="0.6"/>
<text x="44.3" y="336.3" font-size="6.8" fill="#1a1a1a" stroke="#1a1a1a" stroke-width="0.15" textLength="48.7" lengthAdjust="spacingAndGlyphs">20,000 – 50,000</text>
<circle cx="19.8" cy="344.6" r="3.2" fill="#d6d6d6" stroke="#444" stroke-width="0.6"/>
<text x="44.3" y="346.5" font-size="6.8" fill="#1a1a1a" stroke="#1a1a1a" stroke-width="0.15" textLength="52.3" lengthAdjust="spacingAndGlyphs">50,000 – 100,000</text>
<circle cx="21" cy="355.6" r="4.1" fill="#d6d6d6" stroke="#444" stroke-width="0.6"/>
<text x="44.3" y="357.3" font-size="6.8" fill="#1a1a1a" stroke="#1a1a1a" stroke-width="0.15" textLength="56.5" lengthAdjust="spacingAndGlyphs">100,000 – 500,000</text>
<circle cx="23.4" cy="369.8" r="6.5" fill="#d6d6d6" stroke="#444" stroke-width="0.6"/>
<text x="44.3" y="371.6" font-size="6.8" fill="#1a1a1a" stroke="#1a1a1a" stroke-width="0.15" textLength="62.2" lengthAdjust="spacingAndGlyphs">500,000 – 1,000,000</text>
<circle cx="25" cy="388.1" r="8.4" fill="#d6d6d6" stroke="#444" stroke-width="0.6"/>
<text x="44.3" y="390.3" font-size="6.8" fill="#1a1a1a" stroke="#1a1a1a" stroke-width="0.15" textLength="71.1" lengthAdjust="spacingAndGlyphs">1,000,000 – 10,000,000</text>
<circle cx="29" cy="412.6" r="12.5" fill="#d6d6d6" stroke="#444" stroke-width="0.6"/>
<text x="43.5" y="415" font-size="6.8" fill="#1a1a1a" stroke="#1a1a1a" stroke-width="0.15" textLength="37" lengthAdjust="spacingAndGlyphs">&gt;10,000,000</text>
<rect x="439.5" y="315" width="111" height="115" fill="#bdbcbd" stroke="#6d6d6d" stroke-width="0.9"/>
<text x="446" y="325.6" font-size="6.6" fill="#1a1a1a" stroke="#1a1a1a" stroke-width="0.15" textLength="43.6" lengthAdjust="spacingAndGlyphs">Population size</text>
<circle cx="448.4" cy="334.9" r="1.5" fill="#d6d6d6" stroke="#444" stroke-width="0.6"/>
<text x="474.3" y="336.3" font-size="6.8" fill="#1a1a1a" stroke="#1a1a1a" stroke-width="0.15" textLength="48.7" lengthAdjust="spacingAndGlyphs">20,000 – 50,000</text>
<circle cx="449.8" cy="344.6" r="3.2" fill="#d6d6d6" stroke="#444" stroke-width="0.6"/>
<text x="474.3" y="346.5" font-size="6.8" fill="#1a1a1a" stroke="#1a1a1a" stroke-width="0.15" textLength="52.3" lengthAdjust="spacingAndGlyphs">50,000 – 100,000</text>
<circle cx="451" cy="355.6" r="4.1" fill="#d6d6d6" stroke="#444" stroke-width="0.6"/>
<text x="474.3" y="357.3" font-size="6.8" fill="#1a1a1a" stroke="#1a1a1a" stroke-width="0.15" textLength="56.5" lengthAdjust="spacingAndGlyphs">100,000 – 500,000</text>
<circle cx="453.4" cy="369.8" r="6.5" fill="#d6d6d6" stroke="#444" stroke-width="0.6"/>
<text x="474.3" y="371.6" font-size="6.8" fill="#1a1a1a" stroke="#1a1a1a" stroke-width="0.15" textLength="62.2" lengthAdjust="spacingAndGlyphs">500,000 – 1,000,000</text>
<circle cx="455" cy="388.1" r="8.4" fill="#d6d6d6" stroke="#444" stroke-width="0.6"/>
<text x="474.3" y="390.3" font-size="6.8" fill="#1a1a1a" stroke="#1a1a1a" stroke-width="0.15" textLength="71.1" lengthAdjust="spacingAndGlyphs">1,000,000 – 10,000,000</text>
<circle cx="459" cy="412.6" r="12.5" fill="#d6d6d6" stroke="#444" stroke-width="0.6"/>
<text x="473.5" y="415" font-size="6.8" fill="#1a1a1a" stroke="#1a1a1a" stroke-width="0.15" textLength="37" lengthAdjust="spacingAndGlyphs">&gt;10,000,000</text>
</g>
</svg>
</body></html>
